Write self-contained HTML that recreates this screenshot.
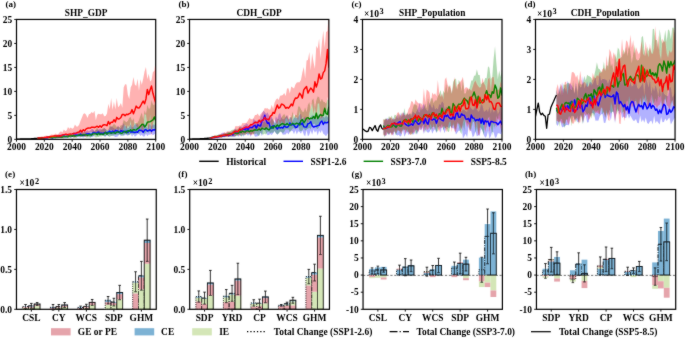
<!DOCTYPE html>
<html><head><meta charset="utf-8"><style>
html,body{margin:0;padding:0;background:#fff;}
svg{display:block;will-change:transform;}
text{font-family:"Liberation Serif", serif;fill:#000;}
</style></head><body>
<svg width="685" height="338" viewBox="0 0 685 338">
<defs><filter id="bl" filterUnits="userSpaceOnUse" x="-5" y="-5" width="695" height="348"><feConvolveMatrix order="3" kernelMatrix="1 2 1 2 28 2 1 2 1" divisor="40" edgeMode="duplicate" preserveAlpha="false"/></filter></defs>
<rect width="685" height="338" fill="#fff"/>
<g filter="url(#bl)">
<defs><clipPath id="cp0"><rect x="16.5" y="19.45" width="139.2" height="119.9"/></clipPath></defs>
<g clip-path="url(#cp0)">
<path d="M37.38,137.88 L38.77,137.88 L40.16,137.46 L41.56,137.34 L42.95,137.51 L44.34,137.18 L45.73,136.99 L47.12,136.1 L48.52,136.63 L49.91,136.56 L51.3,136.66 L52.69,136.38 L54.08,135.64 L55.48,134.96 L56.87,135.99 L58.26,134.55 L59.65,134.6 L61.04,134.01 L62.44,134.43 L63.83,134.08 L65.22,134.56 L66.61,134.41 L68,133.43 L69.4,133.89 L70.79,133.61 L72.18,133.78 L73.57,132.17 L74.96,132.14 L76.36,131.6 L77.75,132.98 L79.14,132.63 L80.53,130.38 L81.92,131.04 L83.32,132.07 L84.71,131.71 L86.1,131.3 L87.49,130.37 L88.88,131.6 L90.28,130.55 L91.67,129.06 L93.06,129.03 L94.45,131.56 L95.84,130.3 L97.24,129.62 L98.63,129.38 L100.02,128.64 L101.41,129.43 L102.8,129.42 L104.2,127.81 L105.59,129 L106.98,130.92 L108.37,129.67 L109.76,127.86 L111.16,125.89 L112.55,127.19 L113.94,128.17 L115.33,128.94 L116.72,127.9 L118.12,125.53 L119.51,128.35 L120.9,127.98 L122.29,125.57 L123.68,123.28 L125.08,126.41 L126.47,125.91 L127.86,128.45 L129.25,127.22 L130.64,124.26 L132.04,127.48 L133.43,126.71 L134.82,124.18 L136.21,124.38 L137.6,123.79 L139,127.18 L140.39,126.17 L141.78,123.58 L143.17,126.69 L144.56,123.35 L145.96,126.24 L147.35,128.61 L148.74,124.38 L150.13,124.28 L151.52,126.64 L152.92,124.04 L154.31,125.21 L155.7,122.98 L155.7,133.35 L154.31,134.28 L152.92,135.28 L151.52,133.64 L150.13,134.67 L148.74,134.55 L147.35,136.35 L145.96,133.78 L144.56,136.44 L143.17,136.38 L141.78,134.71 L140.39,136.03 L139,134.07 L137.6,134.31 L136.21,135.82 L134.82,136.64 L133.43,134.28 L132.04,136.84 L130.64,133.67 L129.25,134.69 L127.86,135.81 L126.47,135.09 L125.08,134.85 L123.68,136.03 L122.29,134.38 L120.9,136.45 L119.51,133.97 L118.12,136.27 L116.72,136.65 L115.33,137 L113.94,136.02 L112.55,135.36 L111.16,135.75 L109.76,134.93 L108.37,136.36 L106.98,134.81 L105.59,136.74 L104.2,135.91 L102.8,135.07 L101.41,134.66 L100.02,135.87 L98.63,135.18 L97.24,135.01 L95.84,135.2 L94.45,135.06 L93.06,136.7 L91.67,137.07 L90.28,137.21 L88.88,135.89 L87.49,136.77 L86.1,136.28 L84.71,136.66 L83.32,137.41 L81.92,136.88 L80.53,137.25 L79.14,137.37 L77.75,137.03 L76.36,137.13 L74.96,136.68 L73.57,137.51 L72.18,136.75 L70.79,137.88 L69.4,136.75 L68,137.42 L66.61,137.39 L65.22,137.74 L63.83,137.51 L62.44,137.24 L61.04,138.02 L59.65,137.64 L58.26,137.81 L56.87,138.09 L55.48,138.24 L54.08,138.16 L52.69,137.83 L51.3,138.03 L49.91,138.26 L48.52,138.07 L47.12,138.34 L45.73,138.22 L44.34,138.76 L42.95,138.58 L41.56,138.64 L40.16,138.56 L38.77,138.78 L37.38,138.97 Z" fill="#0000ff" fill-opacity="0.3"/>
<path d="M37.38,137.69 L38.77,137.69 L40.16,137.74 L41.56,137.45 L42.95,137.43 L44.34,136.78 L45.73,137.15 L47.12,137.06 L48.52,136.56 L49.91,136.87 L51.3,136.84 L52.69,136.05 L54.08,135.65 L55.48,135.45 L56.87,135.2 L58.26,135.54 L59.65,135.65 L61.04,135.29 L62.44,134.77 L63.83,135.09 L65.22,134.92 L66.61,134.62 L68,134.79 L69.4,133.81 L70.79,134.4 L72.18,134.49 L73.57,133.18 L74.96,133.47 L76.36,133.88 L77.75,133.27 L79.14,132.61 L80.53,132.2 L81.92,132.03 L83.32,133.15 L84.71,131.98 L86.1,132.41 L87.49,132.51 L88.88,132.71 L90.28,132.62 L91.67,132.68 L93.06,130.09 L94.45,131.93 L95.84,129.08 L97.24,127.92 L98.63,130.23 L100.02,130.72 L101.41,129.67 L102.8,128.43 L104.2,128.27 L105.59,129.2 L106.98,129.85 L108.37,130.11 L109.76,124.45 L111.16,127.11 L112.55,125.8 L113.94,123.7 L115.33,125.12 L116.72,127.05 L118.12,126.55 L119.51,127.32 L120.9,125.02 L122.29,125.62 L123.68,119.77 L125.08,121.32 L126.47,122.14 L127.86,120.81 L129.25,118.04 L130.64,116.91 L132.04,121.09 L133.43,118.15 L134.82,123.19 L136.21,123.07 L137.6,122.71 L139,119.88 L140.39,116.1 L141.78,112.61 L143.17,119.52 L144.56,110.32 L145.96,114.23 L147.35,104.74 L148.74,108.8 L150.13,108.23 L151.52,100.22 L152.92,104.5 L154.31,104.9 L155.7,94.92 L155.7,130.68 L154.31,129.31 L152.92,127.87 L151.52,134.07 L150.13,130.65 L148.74,133 L147.35,131.33 L145.96,132.5 L144.56,134.27 L143.17,130.11 L141.78,131.93 L140.39,132.23 L139,133.84 L137.6,132.78 L136.21,133.7 L134.82,133.5 L133.43,134.4 L132.04,133.24 L130.64,134.18 L129.25,135.06 L127.86,134.67 L126.47,134.28 L125.08,134.06 L123.68,135.09 L122.29,136.26 L120.9,134.97 L119.51,134.84 L118.12,134.65 L116.72,134.74 L115.33,134.58 L113.94,135.21 L112.55,136.1 L111.16,135.77 L109.76,136.95 L108.37,136.35 L106.98,135.05 L105.59,136.32 L104.2,136.5 L102.8,135.51 L101.41,136.6 L100.02,136.35 L98.63,136.88 L97.24,137.03 L95.84,137.5 L94.45,136.55 L93.06,135.9 L91.67,136.44 L90.28,137.8 L88.88,137.24 L87.49,137.52 L86.1,137.39 L84.71,136.23 L83.32,136.8 L81.92,136.97 L80.53,136.73 L79.14,136.59 L77.75,136.91 L76.36,137.63 L74.96,137.63 L73.57,137.53 L72.18,137.1 L70.79,137.66 L69.4,137.77 L68,138.04 L66.61,137.32 L65.22,137.44 L63.83,138.18 L62.44,138.21 L61.04,138.19 L59.65,137.94 L58.26,138.19 L56.87,138.44 L55.48,138.35 L54.08,138.36 L52.69,138.01 L51.3,138.3 L49.91,138.04 L48.52,138.43 L47.12,138.36 L45.73,138.26 L44.34,138.61 L42.95,138.75 L41.56,138.54 L40.16,138.8 L38.77,138.91 L37.38,138.7 Z" fill="#008000" fill-opacity="0.3"/>
<path d="M37.38,137.56 L38.77,137.2 L40.16,136.92 L41.56,136.51 L42.95,136.57 L44.34,136.32 L45.73,135.86 L47.12,135.77 L48.52,136.32 L49.91,135.21 L51.3,134.38 L52.69,134.72 L54.08,134.72 L55.48,133.38 L56.87,134.32 L58.26,134.15 L59.65,132.26 L61.04,131.31 L62.44,132.49 L63.83,129.38 L65.22,131.06 L66.61,130.61 L68,126.9 L69.4,128.72 L70.79,127.39 L72.18,128.63 L73.57,127.96 L74.96,124.38 L76.36,126.49 L77.75,126.62 L79.14,124.81 L80.53,120.79 L81.92,117.55 L83.32,114.03 L84.71,113.19 L86.1,114.79 L87.49,117.99 L88.88,114.18 L90.28,113.81 L91.67,111.88 L93.06,113.21 L94.45,110.87 L95.84,120.2 L97.24,114.76 L98.63,113.64 L100.02,114.27 L101.41,114.31 L102.8,113.25 L104.2,116.17 L105.59,115.99 L106.98,113.4 L108.37,103.87 L109.76,109.19 L111.16,97.91 L112.55,109.99 L113.94,101.52 L115.33,109.51 L116.72,98.12 L118.12,107.13 L119.51,105.76 L120.9,103.07 L122.29,107.79 L123.68,87.4 L125.08,84.31 L126.47,84.61 L127.86,94.64 L129.25,99.02 L130.64,87.49 L132.04,84.8 L133.43,76.97 L134.82,84.48 L136.21,86 L137.6,78.67 L139,90.78 L140.39,79.31 L141.78,84.78 L143.17,78.73 L144.56,71.42 L145.96,67.01 L147.35,79.14 L148.74,73.63 L150.13,81.39 L151.52,80.12 L152.92,72.08 L154.31,70.88 L155.7,59.57 L155.7,120.32 L154.31,119.59 L152.92,123.49 L151.52,136.77 L150.13,114.13 L148.74,130.69 L147.35,124.82 L145.96,114.54 L144.56,114.37 L143.17,133.02 L141.78,130.8 L140.39,122.53 L139,131.48 L137.6,127.36 L136.21,126.12 L134.82,121.07 L133.43,127.19 L132.04,131.95 L130.64,120.77 L129.25,127.74 L127.86,125.11 L126.47,128.93 L125.08,124.56 L123.68,127.08 L122.29,132.35 L120.9,132.27 L119.51,127.85 L118.12,131.45 L116.72,127.89 L115.33,131.93 L113.94,132.36 L112.55,130.27 L111.16,129.98 L109.76,129.48 L108.37,130.49 L106.98,130.04 L105.59,131.08 L104.2,133.61 L102.8,133.43 L101.41,133.87 L100.02,133.15 L98.63,132.16 L97.24,132.89 L95.84,134.24 L94.45,134.76 L93.06,134.69 L91.67,132.02 L90.28,132.12 L88.88,132.38 L87.49,136.87 L86.1,135.96 L84.71,136.95 L83.32,135.69 L81.92,135.32 L80.53,137.19 L79.14,134.26 L77.75,135.61 L76.36,136.33 L74.96,137.52 L73.57,137.28 L72.18,135.42 L70.79,137.38 L69.4,135.94 L68,135.95 L66.61,136.05 L65.22,137.52 L63.83,137.16 L62.44,137.68 L61.04,137.92 L59.65,137.57 L58.26,137.53 L56.87,137.54 L55.48,137.55 L54.08,137.34 L52.69,138.25 L51.3,137.81 L49.91,138.36 L48.52,138.43 L47.12,138.28 L45.73,138.43 L44.34,138.67 L42.95,138.59 L41.56,138.56 L40.16,138.52 L38.77,138.51 L37.38,138.8 Z" fill="#ff0000" fill-opacity="0.3"/>
<path d="M16.5,139.13 L17.89,139.1 L19.28,139.05 L20.68,139.02 L22.07,139 L23.46,139 L24.85,138.9 L26.24,138.93 L27.64,138.81 L29.03,138.83 L30.42,138.82 L31.81,138.71 L33.2,138.68 L34.6,138.5 L35.99,138.47 L37.38,138.43" fill="none" stroke="#000" stroke-width="1.3" stroke-linejoin="round"/>
<path d="M37.38,138.38 L38.77,138.27 L40.16,138.13 L41.56,138.11 L42.95,137.86 L44.34,138.06 L45.73,137.75 L47.12,138.03 L48.52,137.29 L49.91,137.39 L51.3,137.78 L52.69,137.66 L54.08,137.5 L55.48,137.32 L56.87,136.89 L58.26,136.92 L59.65,136.73 L61.04,136.93 L62.44,135.93 L63.83,135.99 L65.22,136.46 L66.61,136.6 L68,135.99 L69.4,135.77 L70.79,134.92 L72.18,135.88 L73.57,135.24 L74.96,135.06 L76.36,134.83 L77.75,135.14 L79.14,135.13 L80.53,134.06 L81.92,135 L83.32,135.37 L84.71,134.82 L86.1,134.16 L87.49,133.64 L88.88,133.81 L90.28,134.23 L91.67,134.44 L93.06,132.78 L94.45,132.54 L95.84,133.59 L97.24,132.59 L98.63,131.89 L100.02,133.57 L101.41,133.05 L102.8,133.71 L104.2,132.62 L105.59,132.56 L106.98,132.8 L108.37,132.22 L109.76,131.13 L111.16,133.12 L112.55,131 L113.94,132.79 L115.33,130.55 L116.72,130.7 L118.12,131.23 L119.51,132.63 L120.9,130.58 L122.29,131.32 L123.68,130.98 L125.08,132.18 L126.47,131.08 L127.86,132.62 L129.25,130.56 L130.64,131.98 L132.04,131.79 L133.43,132.02 L134.82,132.57 L136.21,131.85 L137.6,132.34 L139,130.13 L140.39,130.32 L141.78,130.42 L143.17,132.4 L144.56,130.14 L145.96,129.66 L147.35,130.95 L148.74,130.51 L150.13,129.72 L151.52,131.28 L152.92,129.8 L154.31,130.1 L155.7,129.2" fill="none" stroke="#0000ff" stroke-width="1.45" stroke-linejoin="round"/>
<path d="M37.38,138.34 L38.77,138.41 L40.16,138.29 L41.56,138.03 L42.95,137.98 L44.34,137.84 L45.73,137.9 L47.12,137.59 L48.52,137.58 L49.91,137.58 L51.3,137.65 L52.69,137.71 L54.08,137.07 L55.48,137.53 L56.87,136.67 L58.26,137.07 L59.65,137.13 L61.04,137.11 L62.44,137.06 L63.83,136.36 L65.22,136.63 L66.61,136.43 L68,136.81 L69.4,135.67 L70.79,135.76 L72.18,136.07 L73.57,135.54 L74.96,136.07 L76.36,135.63 L77.75,135.37 L79.14,134.98 L80.53,135.23 L81.92,135.29 L83.32,134.63 L84.71,134.92 L86.1,134.6 L87.49,135.28 L88.88,134.53 L90.28,134.82 L91.67,135.03 L93.06,133.63 L94.45,133.43 L95.84,133.47 L97.24,134.68 L98.63,133.02 L100.02,134.36 L101.41,133.92 L102.8,134.62 L104.2,133.56 L105.59,132.36 L106.98,134.24 L108.37,132.73 L109.76,132.75 L111.16,133.1 L112.55,132.82 L113.94,132.19 L115.33,133.51 L116.72,132.08 L118.12,131.97 L119.51,132.38 L120.9,133.22 L122.29,133.1 L123.68,131.75 L125.08,131.34 L126.47,132.71 L127.86,130.65 L129.25,131.26 L130.64,129.83 L132.04,130.96 L133.43,129.47 L134.82,130.03 L136.21,130.14 L137.6,128.59 L139,127.84 L140.39,126.21 L141.78,124.53 L143.17,124.32 L144.56,126.96 L145.96,125.51 L147.35,122.25 L148.74,121.89 L150.13,121.72 L151.52,120.84 L152.92,119.97 L154.31,116.94 L155.7,120.62" fill="none" stroke="#008000" stroke-width="1.45" stroke-linejoin="round"/>
<path d="M37.38,138.11 L38.77,137.88 L40.16,138 L41.56,137.9 L42.95,137.77 L44.34,137.59 L45.73,137.36 L47.12,137.06 L48.52,137.2 L49.91,136.72 L51.3,136.52 L52.69,136.34 L54.08,136.07 L55.48,135.96 L56.87,135.89 L58.26,136.02 L59.65,135.83 L61.04,135.96 L62.44,134.9 L63.83,134.63 L65.22,134.34 L66.61,134.34 L68,134.77 L69.4,134.18 L70.79,134.09 L72.18,133.85 L73.57,133.46 L74.96,133.58 L76.36,133.06 L77.75,132.27 L79.14,132.02 L80.53,130.33 L81.92,131.96 L83.32,129.72 L84.71,130.87 L86.1,128.81 L87.49,128.29 L88.88,128.04 L90.28,128.1 L91.67,127.21 L93.06,127.34 L94.45,127.47 L95.84,126.98 L97.24,126.2 L98.63,127.36 L100.02,125.84 L101.41,127.17 L102.8,125.26 L104.2,124.72 L105.59,124.9 L106.98,125.73 L108.37,121.53 L109.76,124.21 L111.16,122.17 L112.55,122.4 L113.94,119.75 L115.33,121.95 L116.72,117.36 L118.12,118.99 L119.51,118.81 L120.9,117.57 L122.29,114.41 L123.68,114.4 L125.08,115.7 L126.47,114.29 L127.86,114.66 L129.25,113.69 L130.64,113.03 L132.04,109.61 L133.43,113.8 L134.82,110.31 L136.21,106.1 L137.6,107.72 L139,108.1 L140.39,106.23 L141.78,103.47 L143.17,101.1 L144.56,103.77 L145.96,98.92 L147.35,89.44 L148.74,94.65 L150.13,89.77 L151.52,86.04 L152.92,93.3 L154.31,98.29 L155.7,102.86" fill="none" stroke="#ff0000" stroke-width="1.45" stroke-linejoin="round"/>
</g>
<rect x="16.5" y="19.45" width="139.2" height="119.9" fill="none" stroke="#000" stroke-width="1.2"/>
<line x1="14.2" y1="139.35" x2="16.5" y2="139.35" stroke="#000" stroke-width="0.9" />
<text x="12.1" y="142.65" text-anchor="end" font-size="9.45" font-weight="bold" >0</text>
<line x1="14.2" y1="115.37" x2="16.5" y2="115.37" stroke="#000" stroke-width="0.9" />
<text x="12.1" y="118.67" text-anchor="end" font-size="9.45" font-weight="bold" >5</text>
<line x1="14.2" y1="91.39" x2="16.5" y2="91.39" stroke="#000" stroke-width="0.9" />
<text x="12.1" y="94.69" text-anchor="end" font-size="9.45" font-weight="bold" >10</text>
<line x1="14.2" y1="67.41" x2="16.5" y2="67.41" stroke="#000" stroke-width="0.9" />
<text x="12.1" y="70.71" text-anchor="end" font-size="9.45" font-weight="bold" >15</text>
<line x1="14.2" y1="43.43" x2="16.5" y2="43.43" stroke="#000" stroke-width="0.9" />
<text x="12.1" y="46.73" text-anchor="end" font-size="9.45" font-weight="bold" >20</text>
<line x1="14.2" y1="19.45" x2="16.5" y2="19.45" stroke="#000" stroke-width="0.9" />
<text x="12.1" y="22.75" text-anchor="end" font-size="9.45" font-weight="bold" >25</text>
<line x1="16.5" y1="139.35" x2="16.5" y2="141.65" stroke="#000" stroke-width="0.9" />
<text x="16.5" y="149.6" text-anchor="middle" font-size="9.45" font-weight="bold" >2000</text>
<line x1="44.34" y1="139.35" x2="44.34" y2="141.65" stroke="#000" stroke-width="0.9" />
<text x="44.34" y="149.6" text-anchor="middle" font-size="9.45" font-weight="bold" >2020</text>
<line x1="72.18" y1="139.35" x2="72.18" y2="141.65" stroke="#000" stroke-width="0.9" />
<text x="72.18" y="149.6" text-anchor="middle" font-size="9.45" font-weight="bold" >2040</text>
<line x1="100.02" y1="139.35" x2="100.02" y2="141.65" stroke="#000" stroke-width="0.9" />
<text x="100.02" y="149.6" text-anchor="middle" font-size="9.45" font-weight="bold" >2060</text>
<line x1="127.86" y1="139.35" x2="127.86" y2="141.65" stroke="#000" stroke-width="0.9" />
<text x="127.86" y="149.6" text-anchor="middle" font-size="9.45" font-weight="bold" >2080</text>
<line x1="155.7" y1="139.35" x2="155.7" y2="141.65" stroke="#000" stroke-width="0.9" />
<text x="155.7" y="149.6" text-anchor="middle" font-size="9.45" font-weight="bold" >2100</text>
<text x="86.1" y="15.7" text-anchor="middle" font-size="9.35" font-weight="bold" >SHP_GDP</text>
<text x="5.4" y="6.9" text-anchor="start" font-size="9.0" font-weight="bold" letter-spacing="0.1">(a)</text>
<defs><clipPath id="cp1"><rect x="189.5" y="19.45" width="139.35" height="119.9"/></clipPath></defs>
<g clip-path="url(#cp1)">
<path d="M210.4,137.24 L211.8,136.48 L213.19,136.5 L214.58,136.03 L215.98,135.98 L217.37,135.13 L218.76,134.41 L220.16,134.6 L221.55,133.54 L222.94,132.52 L224.34,133.35 L225.73,133.41 L227.12,132.42 L228.52,132.42 L229.91,132.64 L231.31,132.62 L232.7,130.96 L234.09,130.06 L235.49,128.47 L236.88,130.14 L238.27,129.68 L239.67,126.79 L241.06,126.38 L242.45,127.56 L243.85,125.25 L245.24,124.63 L246.63,123.16 L248.03,124.75 L249.42,125.85 L250.81,124.38 L252.21,124.1 L253.6,118.4 L254.99,120.52 L256.39,121 L257.78,120.18 L259.18,121.67 L260.57,116.64 L261.96,113.99 L263.36,110.54 L264.75,111.94 L266.14,114 L267.54,112.28 L268.93,115.54 L270.32,118.36 L271.72,116.33 L273.11,120.38 L274.5,122.58 L275.9,116.12 L277.29,119.21 L278.68,114.61 L280.08,112.63 L281.47,117.64 L282.86,119.49 L284.26,119.12 L285.65,117.21 L287.05,114.69 L288.44,118.78 L289.83,119.07 L291.23,116.66 L292.62,120.97 L294.01,117.69 L295.41,117.47 L296.8,118.3 L298.19,117.14 L299.59,114.42 L300.98,113.91 L302.37,118.92 L303.77,117.98 L305.16,116.5 L306.55,119.37 L307.95,118.07 L309.34,119.9 L310.73,118.16 L312.13,114.53 L313.52,117.21 L314.92,114.71 L316.31,119.81 L317.7,115.23 L319.1,115.54 L320.49,117.92 L321.88,115.47 L323.28,116.51 L324.67,117.64 L326.06,115.23 L327.46,117.48 L328.85,116.2 L328.85,131.7 L327.46,133.91 L326.06,136.16 L324.67,134.82 L323.28,133.77 L321.88,130.08 L320.49,132.96 L319.1,130.59 L317.7,135.57 L316.31,130.46 L314.92,132.66 L313.52,129.59 L312.13,134.72 L310.73,130.49 L309.34,134.54 L307.95,136.4 L306.55,129.94 L305.16,136.48 L303.77,134.54 L302.37,130.39 L300.98,133.65 L299.59,132 L298.19,131.33 L296.8,134.61 L295.41,130.2 L294.01,134.29 L292.62,131.09 L291.23,130.76 L289.83,131.7 L288.44,134.62 L287.05,132.4 L285.65,134.51 L284.26,134.52 L282.86,134.85 L281.47,132.16 L280.08,130.97 L278.68,133.3 L277.29,134.69 L275.9,133.21 L274.5,131.13 L273.11,133.35 L271.72,135.03 L270.32,134.03 L268.93,134.9 L267.54,135.14 L266.14,132.69 L264.75,129.67 L263.36,127.42 L261.96,136.33 L260.57,132.72 L259.18,135.33 L257.78,136.25 L256.39,136.57 L254.99,136.74 L253.6,133.61 L252.21,132.63 L250.81,136.96 L249.42,133.74 L248.03,135.77 L246.63,134.24 L245.24,133.51 L243.85,136.73 L242.45,134.14 L241.06,136.52 L239.67,134.41 L238.27,137.04 L236.88,134.81 L235.49,136.49 L234.09,136.96 L232.7,136.6 L231.31,136.76 L229.91,136.15 L228.52,136.85 L227.12,136.26 L225.73,137 L224.34,137.08 L222.94,137.21 L221.55,137.68 L220.16,137.42 L218.76,137.68 L217.37,137.89 L215.98,137.71 L214.58,138.56 L213.19,138.19 L211.8,138.59 L210.4,138.9 Z" fill="#0000ff" fill-opacity="0.3"/>
<path d="M210.4,137.09 L211.8,136.6 L213.19,136.21 L214.58,135.78 L215.98,135.07 L217.37,135.59 L218.76,134.58 L220.16,134.74 L221.55,134.1 L222.94,134.09 L224.34,133.15 L225.73,132.99 L227.12,132.73 L228.52,131.65 L229.91,131.74 L231.31,130.2 L232.7,129.68 L234.09,129.48 L235.49,129.68 L236.88,129.2 L238.27,128.73 L239.67,126.86 L241.06,127.67 L242.45,129.24 L243.85,128.38 L245.24,128 L246.63,127.73 L248.03,128.26 L249.42,128.91 L250.81,126.66 L252.21,128.26 L253.6,127.2 L254.99,123.92 L256.39,124.01 L257.78,126.5 L259.18,123.6 L260.57,124.1 L261.96,125.42 L263.36,121.41 L264.75,121.83 L266.14,122.93 L267.54,119.7 L268.93,120.04 L270.32,121.97 L271.72,118.58 L273.11,119.7 L274.5,123.87 L275.9,122.33 L277.29,119.58 L278.68,118.77 L280.08,120.7 L281.47,117.52 L282.86,115.56 L284.26,113.78 L285.65,116.95 L287.05,115.59 L288.44,119.93 L289.83,116.75 L291.23,117.24 L292.62,111.49 L294.01,117.11 L295.41,114.84 L296.8,115.27 L298.19,106.55 L299.59,106.62 L300.98,109.29 L302.37,111.85 L303.77,111.73 L305.16,107.41 L306.55,112.37 L307.95,104.98 L309.34,102.07 L310.73,110.1 L312.13,100.12 L313.52,98.45 L314.92,108.61 L316.31,100.16 L317.7,96.56 L319.1,97.27 L320.49,102.11 L321.88,98.66 L323.28,101.83 L324.67,102.12 L326.06,103.77 L327.46,99.18 L328.85,101.98 L328.85,126.61 L327.46,119.27 L326.06,125.33 L324.67,122.36 L323.28,122.23 L321.88,120.16 L320.49,121.94 L319.1,126.89 L317.7,129.19 L316.31,128.15 L314.92,123.76 L313.52,124.03 L312.13,124.8 L310.73,129.3 L309.34,127.97 L307.95,128.55 L306.55,129.56 L305.16,130.8 L303.77,127.93 L302.37,130.46 L300.98,131.33 L299.59,130.78 L298.19,126.7 L296.8,127.13 L295.41,129.6 L294.01,127.89 L292.62,128.79 L291.23,130.17 L289.83,132.41 L288.44,129.17 L287.05,129.55 L285.65,129.3 L284.26,131.64 L282.86,133.35 L281.47,131.69 L280.08,132.07 L278.68,133.39 L277.29,134.46 L275.9,132.93 L274.5,130.8 L273.11,132.92 L271.72,132.55 L270.32,133.23 L268.93,131.95 L267.54,131.74 L266.14,134.69 L264.75,133.59 L263.36,134.57 L261.96,134.44 L260.57,132.16 L259.18,135.78 L257.78,135.21 L256.39,133.3 L254.99,134.23 L253.6,134.34 L252.21,133.87 L250.81,134.37 L249.42,134.48 L248.03,133.73 L246.63,134.09 L245.24,134.77 L243.85,135.02 L242.45,135.85 L241.06,136.53 L239.67,134.73 L238.27,135.49 L236.88,135.98 L235.49,136.28 L234.09,136.6 L232.7,136.21 L231.31,136.76 L229.91,136.95 L228.52,136.63 L227.12,136.39 L225.73,136.88 L224.34,137.21 L222.94,136.73 L221.55,137.66 L220.16,137.66 L218.76,137.7 L217.37,138.24 L215.98,137.94 L214.58,138.22 L213.19,137.99 L211.8,138.41 L210.4,138.44 Z" fill="#008000" fill-opacity="0.3"/>
<path d="M210.4,136.94 L211.8,136.68 L213.19,136.4 L214.58,135.07 L215.98,135.8 L217.37,135.72 L218.76,135.09 L220.16,134.22 L221.55,133.62 L222.94,133.83 L224.34,131.92 L225.73,133.12 L227.12,131.25 L228.52,131.57 L229.91,131.61 L231.31,131.83 L232.7,130.76 L234.09,129.91 L235.49,126.1 L236.88,126.28 L238.27,126.13 L239.67,125.62 L241.06,125.79 L242.45,123.01 L243.85,123.23 L245.24,122.9 L246.63,122.66 L248.03,120.5 L249.42,117.98 L250.81,119.1 L252.21,119.36 L253.6,118.2 L254.99,115.05 L256.39,115.12 L257.78,113.52 L259.18,116.28 L260.57,114.35 L261.96,112.49 L263.36,111.36 L264.75,107.95 L266.14,108.38 L267.54,108.37 L268.93,109.44 L270.32,109.5 L271.72,104.69 L273.11,108.88 L274.5,102.66 L275.9,99.77 L277.29,98.22 L278.68,100.07 L280.08,95.7 L281.47,95.45 L282.86,95.08 L284.26,92.9 L285.65,96 L287.05,88.4 L288.44,88.27 L289.83,93.45 L291.23,86.52 L292.62,87.47 L294.01,88.45 L295.41,84.56 L296.8,82.54 L298.19,82.19 L299.59,82.19 L300.98,79.82 L302.37,72.43 L303.77,67.05 L305.16,78.19 L306.55,60.56 L307.95,60.01 L309.34,51.91 L310.73,70.23 L312.13,53.37 L313.52,62.32 L314.92,68.64 L316.31,45.87 L317.7,48.65 L319.1,38.62 L320.49,58.82 L321.88,42.92 L323.28,30.6 L324.67,47.7 L326.06,31.92 L327.46,31.11 L328.85,12.06 L328.85,109.46 L327.46,96.46 L326.06,112.33 L324.67,108.69 L323.28,116.28 L321.88,117.85 L320.49,118.8 L319.1,103.35 L317.7,103.85 L316.31,119.16 L314.92,107.1 L313.52,113.93 L312.13,103.35 L310.73,108.48 L309.34,112.7 L307.95,124.44 L306.55,117.98 L305.16,120.72 L303.77,118.89 L302.37,116.99 L300.98,125.95 L299.59,110.15 L298.19,120.84 L296.8,117.27 L295.41,117.99 L294.01,113.34 L292.62,117.53 L291.23,124.85 L289.83,114.74 L288.44,122.77 L287.05,118.31 L285.65,118.43 L284.26,125.88 L282.86,122.74 L281.47,120.94 L280.08,124.82 L278.68,118.88 L277.29,124.53 L275.9,122.41 L274.5,119.06 L273.11,126.01 L271.72,125.48 L270.32,122.97 L268.93,124.95 L267.54,127.94 L266.14,129.07 L264.75,126.93 L263.36,128.93 L261.96,127.22 L260.57,131.59 L259.18,129.13 L257.78,132.01 L256.39,128.53 L254.99,130.87 L253.6,134.52 L252.21,134.46 L250.81,135.4 L249.42,133.61 L248.03,132.84 L246.63,133.25 L245.24,135.34 L243.85,133.33 L242.45,135.09 L241.06,132.94 L239.67,136.29 L238.27,134.95 L236.88,134.81 L235.49,135.89 L234.09,135.82 L232.7,136.69 L231.31,135.51 L229.91,135.78 L228.52,136.83 L227.12,137.24 L225.73,136.53 L224.34,137.16 L222.94,137 L221.55,137.41 L220.16,137.73 L218.76,137.33 L217.37,137.44 L215.98,138.26 L214.58,137.84 L213.19,138.22 L211.8,138.19 L210.4,138.76 Z" fill="#ff0000" fill-opacity="0.3"/>
<path d="M189.5,139.11 L190.89,139.05 L192.29,139.02 L193.68,138.93 L195.07,138.94 L196.47,138.84 L197.86,138.83 L199.25,138.81 L200.65,138.66 L202.04,138.72 L203.44,138.69 L204.83,138.5 L206.22,138.42 L207.62,138.26 L209.01,138.14 L210.4,137.94" fill="none" stroke="#000" stroke-width="1.3" stroke-linejoin="round"/>
<path d="M210.4,138.02 L211.8,137.57 L213.19,137.3 L214.58,137.51 L215.98,137.3 L217.37,136.85 L218.76,136.83 L220.16,136.19 L221.55,136.25 L222.94,135.99 L224.34,135.83 L225.73,135.4 L227.12,134.49 L228.52,135.65 L229.91,135.28 L231.31,133.82 L232.7,134.93 L234.09,133.49 L235.49,131.99 L236.88,131.73 L238.27,132 L239.67,132.44 L241.06,130 L242.45,129.76 L243.85,128.85 L245.24,129.87 L246.63,127.43 L248.03,130.34 L249.42,126.88 L250.81,127.55 L252.21,127.58 L253.6,125.94 L254.99,125.3 L256.39,128.33 L257.78,124.46 L259.18,125.79 L260.57,125.92 L261.96,121.31 L263.36,119.42 L264.75,115.3 L266.14,120.38 L267.54,123.41 L268.93,122.77 L270.32,127.59 L271.72,128.27 L273.11,125.64 L274.5,126.25 L275.9,127.29 L277.29,129.03 L278.68,126.99 L280.08,127.97 L281.47,127.41 L282.86,128.23 L284.26,125.85 L285.65,127 L287.05,127.29 L288.44,126.4 L289.83,122.91 L291.23,125.1 L292.62,124.21 L294.01,125.12 L295.41,127.45 L296.8,127.27 L298.19,125.04 L299.59,122.92 L300.98,124.39 L302.37,123.04 L303.77,126.66 L305.16,126.96 L306.55,127.13 L307.95,123.62 L309.34,123.38 L310.73,121.58 L312.13,125.64 L313.52,127.05 L314.92,126.48 L316.31,126.35 L317.7,125.62 L319.1,125.33 L320.49,122.28 L321.88,120.94 L323.28,124.47 L324.67,122.15 L326.06,122.79 L327.46,122.62 L328.85,121.26" fill="none" stroke="#0000ff" stroke-width="1.45" stroke-linejoin="round"/>
<path d="M210.4,137.85 L211.8,137.54 L213.19,137.17 L214.58,137.27 L215.98,136.92 L217.37,136.31 L218.76,136.36 L220.16,135.96 L221.55,135.98 L222.94,135.59 L224.34,135.42 L225.73,134.83 L227.12,134.63 L228.52,134.26 L229.91,133.54 L231.31,134.28 L232.7,133.6 L234.09,133.02 L235.49,133.25 L236.88,133.41 L238.27,133.19 L239.67,131.36 L241.06,132.55 L242.45,131 L243.85,131.9 L245.24,132.01 L246.63,130.8 L248.03,130.84 L249.42,131.68 L250.81,130.63 L252.21,131.2 L253.6,130.46 L254.99,129.7 L256.39,129.94 L257.78,130.03 L259.18,129.01 L260.57,130.12 L261.96,128.19 L263.36,128.82 L264.75,129.39 L266.14,127.86 L267.54,129.21 L268.93,129.89 L270.32,128.4 L271.72,126.5 L273.11,128.22 L274.5,125.95 L275.9,126.97 L277.29,124.94 L278.68,126.66 L280.08,125.06 L281.47,124.03 L282.86,123.52 L284.26,124.57 L285.65,124.81 L287.05,123.62 L288.44,124.74 L289.83,125.1 L291.23,124.51 L292.62,123.24 L294.01,124.29 L295.41,123.95 L296.8,123.18 L298.19,123.79 L299.59,124.97 L300.98,120.48 L302.37,119.46 L303.77,122.8 L305.16,120.84 L306.55,118.19 L307.95,117.56 L309.34,119.13 L310.73,118.18 L312.13,118.61 L313.52,116.4 L314.92,118.56 L316.31,113.08 L317.7,118.59 L319.1,116.5 L320.49,114.41 L321.88,115.67 L323.28,115.24 L324.67,108.3 L326.06,113.68 L327.46,114.33 L328.85,106.73" fill="none" stroke="#008000" stroke-width="1.45" stroke-linejoin="round"/>
<path d="M210.4,137.84 L211.8,137.85 L213.19,137.51 L214.58,136.92 L215.98,136.83 L217.37,136.76 L218.76,136.45 L220.16,135.81 L221.55,136.18 L222.94,135.23 L224.34,135.2 L225.73,134.84 L227.12,134.96 L228.52,134.99 L229.91,134.85 L231.31,133.94 L232.7,133.56 L234.09,131.96 L235.49,131.25 L236.88,131.42 L238.27,131.62 L239.67,129.21 L241.06,130.02 L242.45,128.77 L243.85,128.23 L245.24,127.29 L246.63,127.21 L248.03,127.49 L249.42,126.19 L250.81,124.44 L252.21,124.73 L253.6,123.52 L254.99,122.25 L256.39,122.57 L257.78,122.8 L259.18,120.17 L260.57,122.15 L261.96,120.15 L263.36,120.1 L264.75,117.38 L266.14,119.46 L267.54,119.15 L268.93,119.72 L270.32,116.09 L271.72,115.32 L273.11,112.33 L274.5,113.3 L275.9,109.05 L277.29,105.05 L278.68,108.22 L280.08,107.3 L281.47,104.09 L282.86,104.49 L284.26,105.58 L285.65,108.29 L287.05,107.33 L288.44,108.17 L289.83,106.59 L291.23,104.05 L292.62,105.7 L294.01,100.84 L295.41,98 L296.8,98.37 L298.19,96.92 L299.59,93.26 L300.98,94.96 L302.37,98.16 L303.77,89.85 L305.16,88.02 L306.55,86.49 L307.95,93.08 L309.34,90.31 L310.73,88.06 L312.13,89.51 L313.52,92.17 L314.92,81.83 L316.31,87.06 L317.7,82.39 L319.1,73.91 L320.49,79.04 L321.88,78.23 L323.28,72.62 L324.67,70.87 L326.06,63.65 L327.46,49.47 L328.85,67.77" fill="none" stroke="#ff0000" stroke-width="1.45" stroke-linejoin="round"/>
</g>
<rect x="189.5" y="19.45" width="139.35" height="119.9" fill="none" stroke="#000" stroke-width="1.2"/>
<line x1="187.2" y1="139.35" x2="189.5" y2="139.35" stroke="#000" stroke-width="0.9" />
<text x="185.1" y="142.65" text-anchor="end" font-size="9.45" font-weight="bold" >0</text>
<line x1="187.2" y1="115.37" x2="189.5" y2="115.37" stroke="#000" stroke-width="0.9" />
<text x="185.1" y="118.67" text-anchor="end" font-size="9.45" font-weight="bold" >5</text>
<line x1="187.2" y1="91.39" x2="189.5" y2="91.39" stroke="#000" stroke-width="0.9" />
<text x="185.1" y="94.69" text-anchor="end" font-size="9.45" font-weight="bold" >10</text>
<line x1="187.2" y1="67.41" x2="189.5" y2="67.41" stroke="#000" stroke-width="0.9" />
<text x="185.1" y="70.71" text-anchor="end" font-size="9.45" font-weight="bold" >15</text>
<line x1="187.2" y1="43.43" x2="189.5" y2="43.43" stroke="#000" stroke-width="0.9" />
<text x="185.1" y="46.73" text-anchor="end" font-size="9.45" font-weight="bold" >20</text>
<line x1="187.2" y1="19.45" x2="189.5" y2="19.45" stroke="#000" stroke-width="0.9" />
<text x="185.1" y="22.75" text-anchor="end" font-size="9.45" font-weight="bold" >25</text>
<line x1="189.5" y1="139.35" x2="189.5" y2="141.65" stroke="#000" stroke-width="0.9" />
<text x="189.5" y="149.6" text-anchor="middle" font-size="9.45" font-weight="bold" >2000</text>
<line x1="217.37" y1="139.35" x2="217.37" y2="141.65" stroke="#000" stroke-width="0.9" />
<text x="217.37" y="149.6" text-anchor="middle" font-size="9.45" font-weight="bold" >2020</text>
<line x1="245.24" y1="139.35" x2="245.24" y2="141.65" stroke="#000" stroke-width="0.9" />
<text x="245.24" y="149.6" text-anchor="middle" font-size="9.45" font-weight="bold" >2040</text>
<line x1="273.11" y1="139.35" x2="273.11" y2="141.65" stroke="#000" stroke-width="0.9" />
<text x="273.11" y="149.6" text-anchor="middle" font-size="9.45" font-weight="bold" >2060</text>
<line x1="300.98" y1="139.35" x2="300.98" y2="141.65" stroke="#000" stroke-width="0.9" />
<text x="300.98" y="149.6" text-anchor="middle" font-size="9.45" font-weight="bold" >2080</text>
<line x1="328.85" y1="139.35" x2="328.85" y2="141.65" stroke="#000" stroke-width="0.9" />
<text x="328.85" y="149.6" text-anchor="middle" font-size="9.45" font-weight="bold" >2100</text>
<text x="259.18" y="15.7" text-anchor="middle" font-size="9.35" font-weight="bold" >CDH_GDP</text>
<text x="178.4" y="6.9" text-anchor="start" font-size="9.0" font-weight="bold" letter-spacing="0.1">(b)</text>
<defs><clipPath id="cp2"><rect x="362.5" y="19.45" width="139.5" height="119.9"/></clipPath></defs>
<g clip-path="url(#cp2)">
<path d="M383.43,123.42 L384.82,120.03 L386.22,119.12 L387.61,118.34 L389,118.92 L390.4,117.98 L391.8,121.01 L393.19,117.69 L394.58,119.46 L395.98,118.82 L397.38,114.57 L398.77,119.24 L400.17,113.1 L401.56,117.53 L402.95,112.23 L404.35,112.89 L405.75,116.94 L407.14,113.43 L408.54,114.79 L409.93,113.66 L411.32,116.84 L412.72,111.26 L414.12,112.85 L415.51,113.69 L416.9,110.75 L418.3,107.65 L419.69,102.53 L421.09,110.69 L422.49,106.8 L423.88,103.13 L425.27,108.31 L426.67,110.05 L428.06,111.45 L429.46,102.36 L430.86,105.72 L432.25,108.69 L433.64,104.02 L435.04,109.78 L436.44,107.98 L437.83,109.38 L439.23,104.18 L440.62,105.01 L442.01,101.35 L443.41,102.91 L444.81,110.59 L446.2,106.72 L447.6,108.96 L448.99,112.22 L450.38,105.53 L451.78,110.15 L453.18,111.61 L454.57,106.21 L455.97,106.03 L457.36,109.56 L458.75,109.92 L460.15,109.11 L461.55,111.65 L462.94,109.59 L464.33,110.12 L465.73,111.24 L467.12,111.96 L468.52,105.64 L469.92,106.7 L471.31,108.53 L472.7,109.88 L474.1,109.24 L475.5,105.25 L476.89,109.17 L478.28,111.93 L479.68,110.18 L481.07,103.89 L482.47,105.4 L483.87,111.72 L485.26,111.21 L486.65,109.59 L488.05,112.37 L489.44,106.5 L490.84,113.66 L492.24,106.74 L493.63,112.78 L495.02,110.29 L496.42,107.6 L497.81,114.56 L499.21,111.7 L500.61,105.09 L502,113.4 L502,130.94 L500.61,134.21 L499.21,133.16 L497.81,133.36 L496.42,137.37 L495.02,137.82 L493.63,132.45 L492.24,131.77 L490.84,136.14 L489.44,138.39 L488.05,130.64 L486.65,136.35 L485.26,137.77 L483.87,135.33 L482.47,130.42 L481.07,129.05 L479.68,135.85 L478.28,135.34 L476.89,136.38 L475.5,131.1 L474.1,135.72 L472.7,137.36 L471.31,131.37 L469.92,130.82 L468.52,127.04 L467.12,137.69 L465.73,133.69 L464.33,136.28 L462.94,138.6 L461.55,126.59 L460.15,130.91 L458.75,130.49 L457.36,132.41 L455.97,134.45 L454.57,129.38 L453.18,128 L451.78,128.36 L450.38,125.94 L448.99,128.39 L447.6,127.06 L446.2,126.8 L444.81,133.37 L443.41,129.85 L442.01,126.16 L440.62,132.96 L439.23,127.36 L437.83,126.98 L436.44,133.3 L435.04,129.26 L433.64,130.82 L432.25,133.68 L430.86,128.4 L429.46,132.01 L428.06,132.84 L426.67,131.74 L425.27,129.59 L423.88,134.03 L422.49,127.74 L421.09,130.31 L419.69,129.17 L418.3,131.2 L416.9,134.77 L415.51,130.05 L414.12,134.02 L412.72,134.59 L411.32,131.64 L409.93,133.29 L408.54,134.97 L407.14,131.85 L405.75,133.91 L404.35,136.8 L402.95,129.77 L401.56,135.3 L400.17,136.8 L398.77,134.65 L397.38,135.59 L395.98,134.61 L394.58,131.36 L393.19,135.82 L391.8,133.18 L390.4,132.88 L389,135.34 L387.61,133.04 L386.22,135.14 L384.82,136.71 L383.43,133.02 Z" fill="#0000ff" fill-opacity="0.3"/>
<path d="M383.43,119.13 L384.82,119.49 L386.22,117.74 L387.61,121.15 L389,115.98 L390.4,118.21 L391.8,115.62 L393.19,120.02 L394.58,114.7 L395.98,115.02 L397.38,118.87 L398.77,113.1 L400.17,119 L401.56,112.35 L402.95,117.11 L404.35,107.93 L405.75,115.9 L407.14,112.49 L408.54,115.04 L409.93,113.35 L411.32,113.91 L412.72,108.55 L414.12,104.3 L415.51,104.6 L416.9,105.59 L418.3,111.51 L419.69,112.86 L421.09,105.92 L422.49,109.8 L423.88,107.61 L425.27,103.6 L426.67,108.62 L428.06,97.19 L429.46,105.82 L430.86,98.7 L432.25,97.71 L433.64,103.3 L435.04,100.36 L436.44,100.81 L437.83,96.6 L439.23,94.1 L440.62,90.01 L442.01,97.26 L443.41,90.6 L444.81,93.23 L446.2,83.15 L447.6,93.17 L448.99,84.31 L450.38,88.24 L451.78,93.22 L453.18,81.68 L454.57,79.22 L455.97,78.54 L457.36,90.37 L458.75,80.11 L460.15,82.24 L461.55,91.42 L462.94,78.98 L464.33,93.55 L465.73,93.47 L467.12,88.51 L468.52,90.74 L469.92,86.66 L471.31,80.44 L472.7,80.6 L474.1,75.67 L475.5,75.47 L476.89,69.3 L478.28,74.97 L479.68,75.09 L481.07,84.39 L482.47,82.64 L483.87,82.13 L485.26,78.11 L486.65,78.22 L488.05,66.24 L489.44,67.83 L490.84,79.24 L492.24,76.71 L493.63,58.44 L495.02,46.2 L496.42,63.65 L497.81,79.16 L499.21,70.4 L500.61,77.1 L502,69.22 L502,116.38 L500.61,123.53 L499.21,112.71 L497.81,119.92 L496.42,115.64 L495.02,129.04 L493.63,123.67 L492.24,135.42 L490.84,126.14 L489.44,116.56 L488.05,118.07 L486.65,129.35 L485.26,117.85 L483.87,135.07 L482.47,130.98 L481.07,127.78 L479.68,127.52 L478.28,134.52 L476.89,126.49 L475.5,133.37 L474.1,121.39 L472.7,122.77 L471.31,129.25 L469.92,129.83 L468.52,121.9 L467.12,123.59 L465.73,118.34 L464.33,131.04 L462.94,124.42 L461.55,134.34 L460.15,131.65 L458.75,125.47 L457.36,121.58 L455.97,129.4 L454.57,127.77 L453.18,124.21 L451.78,128 L450.38,125.54 L448.99,131.97 L447.6,131.38 L446.2,128.62 L444.81,127.61 L443.41,130.35 L442.01,123.3 L440.62,126.92 L439.23,125.7 L437.83,131.23 L436.44,131.9 L435.04,127.81 L433.64,126.85 L432.25,127.08 L430.86,130.29 L429.46,128.19 L428.06,125.32 L426.67,125.48 L425.27,132.62 L423.88,124.39 L422.49,125.44 L421.09,128.86 L419.69,125.26 L418.3,130.09 L416.9,133.48 L415.51,133.79 L414.12,127.62 L412.72,134.3 L411.32,134.29 L409.93,134.59 L408.54,131.6 L407.14,131.95 L405.75,129.4 L404.35,130 L402.95,130.58 L401.56,130.91 L400.17,134.48 L398.77,130.08 L397.38,131.23 L395.98,135.53 L394.58,131.74 L393.19,131.84 L391.8,135 L390.4,131.48 L389,134.2 L387.61,134.22 L386.22,131.6 L384.82,137.5 L383.43,134.31 Z" fill="#008000" fill-opacity="0.3"/>
<path d="M383.43,119.52 L384.82,119.8 L386.22,119.02 L387.61,119.41 L389,119.17 L390.4,116.86 L391.8,118.38 L393.19,119.41 L394.58,119.28 L395.98,116.52 L397.38,112.73 L398.77,112.26 L400.17,115.77 L401.56,114.59 L402.95,112.24 L404.35,115.23 L405.75,114.4 L407.14,114.62 L408.54,108.98 L409.93,106.7 L411.32,101.03 L412.72,101.72 L414.12,105.28 L415.51,99.18 L416.9,101.86 L418.3,103.26 L419.69,103.62 L421.09,103.3 L422.49,105.18 L423.88,88.22 L425.27,102.48 L426.67,89.49 L428.06,90.85 L429.46,92.6 L430.86,102.43 L432.25,92.5 L433.64,94.66 L435.04,93.19 L436.44,96.14 L437.83,80.07 L439.23,93.1 L440.62,96.93 L442.01,93.49 L443.41,99.86 L444.81,79.73 L446.2,77.15 L447.6,84.74 L448.99,87.62 L450.38,85.29 L451.78,93.96 L453.18,86.37 L454.57,77 L455.97,89.35 L457.36,84.54 L458.75,84.08 L460.15,81.83 L461.55,80.2 L462.94,76.66 L464.33,89.41 L465.73,87.37 L467.12,87.39 L468.52,88.69 L469.92,88.94 L471.31,91.31 L472.7,87.04 L474.1,82.72 L475.5,80.44 L476.89,84.13 L478.28,86.31 L479.68,87.7 L481.07,86.79 L482.47,77.8 L483.87,83.16 L485.26,85.62 L486.65,92.21 L488.05,79.33 L489.44,77.53 L490.84,92.3 L492.24,77.4 L493.63,76.79 L495.02,90.41 L496.42,88.86 L497.81,90.02 L499.21,89.42 L500.61,80.92 L502,91.97 L502,118.46 L500.61,130.12 L499.21,120.21 L497.81,119.02 L496.42,127.8 L495.02,123.2 L493.63,124.37 L492.24,122.01 L490.84,124.95 L489.44,132.59 L488.05,117 L486.65,124.83 L485.26,132.14 L483.87,124.21 L482.47,120.97 L481.07,116.97 L479.68,133.95 L478.28,135.56 L476.89,117 L475.5,129.28 L474.1,118.81 L472.7,117.46 L471.31,124.73 L469.92,133.07 L468.52,123.68 L467.12,127.5 L465.73,122.22 L464.33,117.99 L462.94,122.53 L461.55,129.81 L460.15,125.39 L458.75,122.88 L457.36,124.19 L455.97,131.64 L454.57,131.2 L453.18,121.74 L451.78,132.37 L450.38,120.99 L448.99,122.72 L447.6,128.44 L446.2,132.33 L444.81,126.53 L443.41,126.13 L442.01,128.01 L440.62,127.77 L439.23,131.9 L437.83,128.48 L436.44,123.02 L435.04,129.92 L433.64,123.5 L432.25,130.15 L430.86,123.54 L429.46,126.95 L428.06,129.37 L426.67,130.09 L425.27,125.89 L423.88,132.77 L422.49,125.7 L421.09,130.72 L419.69,126.38 L418.3,132.25 L416.9,129.7 L415.51,129.54 L414.12,133.25 L412.72,132.19 L411.32,134.38 L409.93,134.81 L408.54,132.39 L407.14,128.71 L405.75,133.97 L404.35,129.47 L402.95,128.6 L401.56,134.18 L400.17,131.06 L398.77,130.97 L397.38,129.57 L395.98,133.8 L394.58,129.74 L393.19,134.13 L391.8,135.39 L390.4,132.23 L389,134.43 L387.61,131.64 L386.22,135.86 L384.82,135.24 L383.43,135.46 Z" fill="#ff0000" fill-opacity="0.3"/>
<path d="M362.5,128.86 L363.89,129.76 L365.29,130.96 L366.69,131.56 L368.08,131.26 L369.48,127.36 L370.87,127.96 L372.26,130.66 L373.66,127.96 L375.06,125.56 L376.45,129.76 L377.85,131.26 L379.24,126.76 L380.63,124.96 L382.03,128.56 L383.43,129.46" fill="none" stroke="#000" stroke-width="1.3" stroke-linejoin="round"/>
<path d="M383.43,127.96 L384.82,127.45 L386.22,127.56 L387.61,127.88 L389,125.83 L390.4,125.79 L391.8,124.7 L393.19,124.53 L394.58,122.8 L395.98,126.5 L397.38,123.35 L398.77,122.43 L400.17,121.53 L401.56,125.42 L402.95,122.2 L404.35,123.04 L405.75,124.44 L407.14,125.37 L408.54,125.91 L409.93,125.02 L411.32,123.73 L412.72,125.32 L414.12,122.39 L415.51,119.86 L416.9,122.56 L418.3,124.26 L419.69,123.72 L421.09,121.46 L422.49,119.19 L423.88,123.49 L425.27,118.41 L426.67,122.43 L428.06,124.2 L429.46,118.54 L430.86,119.17 L432.25,120.06 L433.64,118.98 L435.04,119.24 L436.44,123.23 L437.83,118.88 L439.23,118.2 L440.62,119.16 L442.01,120.29 L443.41,120.72 L444.81,114.16 L446.2,116.59 L447.6,115.01 L448.99,117.53 L450.38,118.63 L451.78,119.11 L453.18,115.88 L454.57,119.55 L455.97,113.91 L457.36,112.27 L458.75,117.38 L460.15,117.27 L461.55,113.86 L462.94,115.32 L464.33,115.14 L465.73,119.11 L467.12,119.21 L468.52,118.49 L469.92,121.82 L471.31,114.97 L472.7,118.01 L474.1,118.29 L475.5,120.98 L476.89,119.44 L478.28,120.53 L479.68,118.59 L481.07,123.3 L482.47,118.55 L483.87,124.38 L485.26,120.38 L486.65,121.92 L488.05,121.13 L489.44,125.95 L490.84,121.51 L492.24,121.51 L493.63,122.38 L495.02,122.39 L496.42,122.75 L497.81,124.77 L499.21,122.94 L500.61,121.14 L502,125.05" fill="none" stroke="#0000ff" stroke-width="1.45" stroke-linejoin="round"/>
<path d="M383.43,125.56 L384.82,128.7 L386.22,128.02 L387.61,125.48 L389,125.78 L390.4,127.11 L391.8,126.76 L393.19,124.7 L394.58,126.07 L395.98,127.41 L397.38,125.44 L398.77,124.89 L400.17,126.13 L401.56,125.93 L402.95,121.53 L404.35,120.19 L405.75,119.44 L407.14,120.47 L408.54,124.58 L409.93,119.55 L411.32,118.75 L412.72,122.32 L414.12,117.56 L415.51,117.96 L416.9,119.4 L418.3,121.2 L419.69,117.47 L421.09,120.73 L422.49,120.36 L423.88,115.22 L425.27,114.92 L426.67,116.01 L428.06,116.9 L429.46,114.39 L430.86,117.85 L432.25,112.85 L433.64,112.62 L435.04,117.8 L436.44,118.04 L437.83,117.25 L439.23,113.75 L440.62,116.25 L442.01,108.25 L443.41,113.4 L444.81,114.26 L446.2,110.06 L447.6,109.04 L448.99,106.63 L450.38,112.31 L451.78,113.23 L453.18,103.53 L454.57,106.2 L455.97,109.25 L457.36,106.41 L458.75,104.17 L460.15,104.4 L461.55,103.51 L462.94,100.52 L464.33,98.24 L465.73,99.93 L467.12,100.92 L468.52,104.25 L469.92,97.34 L471.31,97.7 L472.7,95.68 L474.1,91.94 L475.5,96.43 L476.89,103.72 L478.28,96.2 L479.68,102.94 L481.07,102.5 L482.47,99.71 L483.87,101.48 L485.26,94.74 L486.65,90.61 L488.05,95.44 L489.44,94.76 L490.84,97.58 L492.24,91.79 L493.63,93.3 L495.02,85.04 L496.42,88.51 L497.81,98.29 L499.21,96.85 L500.61,87.89 L502,95.49" fill="none" stroke="#008000" stroke-width="1.45" stroke-linejoin="round"/>
<path d="M383.43,128.84 L384.82,128.11 L386.22,127.93 L387.61,126.66 L389,127.27 L390.4,126.01 L391.8,123.48 L393.19,123.92 L394.58,122.94 L395.98,124.46 L397.38,123.86 L398.77,124.18 L400.17,123.76 L401.56,123.17 L402.95,124.21 L404.35,120.04 L405.75,121.59 L407.14,122.51 L408.54,119.72 L409.93,123.08 L411.32,119.06 L412.72,119.17 L414.12,117.55 L415.51,115.09 L416.9,119.94 L418.3,115.81 L419.69,117.63 L421.09,118.48 L422.49,120.71 L423.88,116.98 L425.27,114.68 L426.67,114.6 L428.06,117.03 L429.46,115.24 L430.86,119.47 L432.25,114.18 L433.64,112.75 L435.04,116.27 L436.44,114.2 L437.83,118.88 L439.23,115.83 L440.62,115.03 L442.01,117.88 L443.41,111.73 L444.81,114.31 L446.2,112.29 L447.6,109.18 L448.99,109.7 L450.38,115.6 L451.78,113.88 L453.18,116.03 L454.57,106.2 L455.97,111.68 L457.36,111.24 L458.75,105.81 L460.15,111.17 L461.55,105.7 L462.94,105.67 L464.33,99.26 L465.73,108.77 L467.12,108.78 L468.52,108.01 L469.92,100.25 L471.31,96.75 L472.7,105.03 L474.1,105.69 L475.5,99.41 L476.89,108.01 L478.28,101.97 L479.68,97.26 L481.07,101.95 L482.47,103.03 L483.87,102.01 L485.26,94.37 L486.65,99.8 L488.05,95.19 L489.44,101.95 L490.84,101.38 L492.24,103.56 L493.63,108.85 L495.02,109.72 L496.42,103.66 L497.81,102.91 L499.21,102.97 L500.61,106.37 L502,106.52" fill="none" stroke="#ff0000" stroke-width="1.45" stroke-linejoin="round"/>
</g>
<rect x="362.5" y="19.45" width="139.5" height="119.9" fill="none" stroke="#000" stroke-width="1.2"/>
<line x1="360.2" y1="139.35" x2="362.5" y2="139.35" stroke="#000" stroke-width="0.9" />
<text x="358.1" y="142.65" text-anchor="end" font-size="9.45" font-weight="bold" >0</text>
<line x1="360.2" y1="109.38" x2="362.5" y2="109.38" stroke="#000" stroke-width="0.9" />
<text x="358.1" y="112.67" text-anchor="end" font-size="9.45" font-weight="bold" >1</text>
<line x1="360.2" y1="79.4" x2="362.5" y2="79.4" stroke="#000" stroke-width="0.9" />
<text x="358.1" y="82.7" text-anchor="end" font-size="9.45" font-weight="bold" >2</text>
<line x1="360.2" y1="49.42" x2="362.5" y2="49.42" stroke="#000" stroke-width="0.9" />
<text x="358.1" y="52.72" text-anchor="end" font-size="9.45" font-weight="bold" >3</text>
<line x1="360.2" y1="19.45" x2="362.5" y2="19.45" stroke="#000" stroke-width="0.9" />
<text x="358.1" y="22.75" text-anchor="end" font-size="9.45" font-weight="bold" >4</text>
<line x1="362.5" y1="139.35" x2="362.5" y2="141.65" stroke="#000" stroke-width="0.9" />
<text x="362.5" y="149.6" text-anchor="middle" font-size="9.45" font-weight="bold" >2000</text>
<line x1="390.4" y1="139.35" x2="390.4" y2="141.65" stroke="#000" stroke-width="0.9" />
<text x="390.4" y="149.6" text-anchor="middle" font-size="9.45" font-weight="bold" >2020</text>
<line x1="418.3" y1="139.35" x2="418.3" y2="141.65" stroke="#000" stroke-width="0.9" />
<text x="418.3" y="149.6" text-anchor="middle" font-size="9.45" font-weight="bold" >2040</text>
<line x1="446.2" y1="139.35" x2="446.2" y2="141.65" stroke="#000" stroke-width="0.9" />
<text x="446.2" y="149.6" text-anchor="middle" font-size="9.45" font-weight="bold" >2060</text>
<line x1="474.1" y1="139.35" x2="474.1" y2="141.65" stroke="#000" stroke-width="0.9" />
<text x="474.1" y="149.6" text-anchor="middle" font-size="9.45" font-weight="bold" >2080</text>
<line x1="502" y1="139.35" x2="502" y2="141.65" stroke="#000" stroke-width="0.9" />
<text x="502" y="149.6" text-anchor="middle" font-size="9.45" font-weight="bold" >2100</text>
<text x="432.25" y="15.7" text-anchor="middle" font-size="9.35" font-weight="bold" >SHP_Population</text>
<text x="351.4" y="6.9" text-anchor="start" font-size="9.0" font-weight="bold" letter-spacing="0.1">(c)</text>
<text x="364" y="16.5" font-size="9.6" font-weight="bold"><tspan font-size="9.4">×</tspan>10<tspan dx="0.6" dy="-2.9" font-size="8.3">3</tspan></text>
<defs><clipPath id="cp3"><rect x="535.5" y="19.45" width="139.55" height="119.9"/></clipPath></defs>
<g clip-path="url(#cp3)">
<path d="M556.43,89.36 L557.83,97.05 L559.22,86.49 L560.62,95.12 L562.01,82.3 L563.41,89.47 L564.81,87.73 L566.2,92.49 L567.6,80.66 L568.99,84.13 L570.39,83.49 L571.78,85.7 L573.18,87.94 L574.57,93.96 L575.97,80.89 L577.37,97.36 L578.76,82.54 L580.16,87.4 L581.55,87.08 L582.95,75.9 L584.34,88.75 L585.74,85.34 L587.13,81.24 L588.53,87.99 L589.92,81.54 L591.32,82.52 L592.72,84.66 L594.11,80.63 L595.51,77.43 L596.9,85.29 L598.3,84.97 L599.69,74.08 L601.09,81.01 L602.48,79.08 L603.88,78.89 L605.27,79.54 L606.67,80.25 L608.07,84.21 L609.46,78.73 L610.86,82.63 L612.25,84.62 L613.65,80.56 L615.04,85.44 L616.44,86.6 L617.83,76.72 L619.23,78.71 L620.63,70.73 L622.02,85 L623.42,74.07 L624.81,67.2 L626.21,86.76 L627.6,80.36 L629,86.64 L630.39,82.29 L631.79,86.65 L633.18,85.59 L634.58,77.88 L635.98,82.07 L637.37,88.14 L638.77,89.03 L640.16,87.31 L641.56,85.37 L642.95,82.37 L644.35,95.66 L645.74,77.77 L647.14,82.16 L648.54,87.72 L649.93,79.86 L651.33,94.47 L652.72,86.79 L654.12,91.52 L655.51,85.04 L656.91,89.8 L658.3,96.93 L659.7,87.24 L661.09,97.8 L662.49,85.26 L663.89,93.44 L665.28,95.14 L666.68,95.65 L668.07,95.89 L669.47,87.13 L670.86,87.55 L672.26,97.79 L673.65,95.78 L675.05,91.83 L675.05,117.55 L673.65,119.6 L672.26,122 L670.86,124.4 L669.47,117.42 L668.07,119.12 L666.68,120.91 L665.28,118.41 L663.89,121.93 L662.49,122.17 L661.09,117.04 L659.7,124.44 L658.3,122.78 L656.91,120.74 L655.51,123.29 L654.12,115.78 L652.72,124.42 L651.33,120.46 L649.93,121.62 L648.54,123.9 L647.14,122.89 L645.74,117.55 L644.35,122.66 L642.95,119.32 L641.56,122.36 L640.16,115.49 L638.77,123.16 L637.37,123.05 L635.98,118.9 L634.58,120.69 L633.18,120.63 L631.79,118.3 L630.39,115.48 L629,118.65 L627.6,113.78 L626.21,117.89 L624.81,117.7 L623.42,116.73 L622.02,118.05 L620.63,111.51 L619.23,115.07 L617.83,109.06 L616.44,111.34 L615.04,123.35 L613.65,112.92 L612.25,110.9 L610.86,120.44 L609.46,115.23 L608.07,111.83 L606.67,117.72 L605.27,122.92 L603.88,122.63 L602.48,114.19 L601.09,114.17 L599.69,116.56 L598.3,120.85 L596.9,120.38 L595.51,120.74 L594.11,113.73 L592.72,113.03 L591.32,113.21 L589.92,116.13 L588.53,122.3 L587.13,122.56 L585.74,115.04 L584.34,117.97 L582.95,123.73 L581.55,115.13 L580.16,116.89 L578.76,122.27 L577.37,122.1 L575.97,118.9 L574.57,119.94 L573.18,116.05 L571.78,115.77 L570.39,117.59 L568.99,125.31 L567.6,125.03 L566.2,124.98 L564.81,126.16 L563.41,127.01 L562.01,127.18 L560.62,122.83 L559.22,120.73 L557.83,126.07 L556.43,124.28 Z" fill="#0000ff" fill-opacity="0.3"/>
<path d="M556.43,89.98 L557.83,95.11 L559.22,91.93 L560.62,84.58 L562.01,95.77 L563.41,84.43 L564.81,84.79 L566.2,84.62 L567.6,82.73 L568.99,83.06 L570.39,89.02 L571.78,90.22 L573.18,80.8 L574.57,93.45 L575.97,83.11 L577.37,91.24 L578.76,78.33 L580.16,83.53 L581.55,84.84 L582.95,83.91 L584.34,75.81 L585.74,80.4 L587.13,74.69 L588.53,75.9 L589.92,76.54 L591.32,77.66 L592.72,80.13 L594.11,75.86 L595.51,69.97 L596.9,62.22 L598.3,68.47 L599.69,69.15 L601.09,71.82 L602.48,71.7 L603.88,61.55 L605.27,70.38 L606.67,65.11 L608.07,65.93 L609.46,54.21 L610.86,66.41 L612.25,63.62 L613.65,72.74 L615.04,53.32 L616.44,58.97 L617.83,47.49 L619.23,49.75 L620.63,58.57 L622.02,56.55 L623.42,49.09 L624.81,54.53 L626.21,46.53 L627.6,56.57 L629,45.34 L630.39,51.4 L631.79,63.33 L633.18,54.47 L634.58,44.83 L635.98,58.73 L637.37,60.41 L638.77,59.88 L640.16,56.85 L641.56,37.2 L642.95,36.11 L644.35,49.27 L645.74,56.17 L647.14,46.56 L648.54,51.22 L649.93,47.43 L651.33,52.77 L652.72,29.29 L654.12,28.79 L655.51,39.91 L656.91,39.91 L658.3,49.49 L659.7,29.16 L661.09,39.12 L662.49,43.62 L663.89,39.89 L665.28,29.92 L666.68,41.7 L668.07,29.14 L669.47,30.78 L670.86,39.32 L672.26,27.66 L673.65,27.6 L675.05,32.97 L675.05,107.88 L673.65,107.82 L672.26,99.38 L670.86,108 L669.47,90.22 L668.07,88.4 L666.68,104.26 L665.28,98.85 L663.89,100.18 L662.49,109.17 L661.09,94.97 L659.7,97.82 L658.3,95.61 L656.91,102.84 L655.51,98.15 L654.12,102.97 L652.72,104.08 L651.33,93.87 L649.93,101.93 L648.54,107.88 L647.14,98.67 L645.74,105.09 L644.35,97.17 L642.95,102.03 L641.56,107.59 L640.16,97.37 L638.77,105.56 L637.37,106.69 L635.98,101.06 L634.58,101.18 L633.18,106.15 L631.79,98.75 L630.39,105.65 L629,108.97 L627.6,100.19 L626.21,101.65 L624.81,114.58 L623.42,110.96 L622.02,113.56 L620.63,99.71 L619.23,110.86 L617.83,111.11 L616.44,114.48 L615.04,98.72 L613.65,111.98 L612.25,111.71 L610.86,113.5 L609.46,109.4 L608.07,116.55 L606.67,112.4 L605.27,118.2 L603.88,112.11 L602.48,114.28 L601.09,105.74 L599.69,115.65 L598.3,109.56 L596.9,111.39 L595.51,110.15 L594.11,117.51 L592.72,112.94 L591.32,118.62 L589.92,115.1 L588.53,112.88 L587.13,114.99 L585.74,111.93 L584.34,110.78 L582.95,124.04 L581.55,117.67 L580.16,114.04 L578.76,124.42 L577.37,115.25 L575.97,122.25 L574.57,119.33 L573.18,115.27 L571.78,126.19 L570.39,118.04 L568.99,115.83 L567.6,119.93 L566.2,119.19 L564.81,127.89 L563.41,124.8 L562.01,119.46 L560.62,118.53 L559.22,126.99 L557.83,118.41 L556.43,125 Z" fill="#008000" fill-opacity="0.3"/>
<path d="M556.43,88.63 L557.83,84 L559.22,92.87 L560.62,83.7 L562.01,86.31 L563.41,93.87 L564.81,82.22 L566.2,81.56 L567.6,95.27 L568.99,83.39 L570.39,82.71 L571.78,72.13 L573.18,71.89 L574.57,73.5 L575.97,77.81 L577.37,74.78 L578.76,84.44 L580.16,70.64 L581.55,79.71 L582.95,83.4 L584.34,81.84 L585.74,83.25 L587.13,87.2 L588.53,86.09 L589.92,82.21 L591.32,86.02 L592.72,72.66 L594.11,77.28 L595.51,78.24 L596.9,75.06 L598.3,76.62 L599.69,71.64 L601.09,73.33 L602.48,69.34 L603.88,68.08 L605.27,71.23 L606.67,55.5 L608.07,70.54 L609.46,49.08 L610.86,51.91 L612.25,59.29 L613.65,52.26 L615.04,55.72 L616.44,62.82 L617.83,61.08 L619.23,59.45 L620.63,57.53 L622.02,38.59 L623.42,54.69 L624.81,51.13 L626.21,40.36 L627.6,41.98 L629,48.85 L630.39,34.87 L631.79,47.42 L633.18,40.07 L634.58,53.78 L635.98,47.04 L637.37,51.06 L638.77,54.23 L640.16,51.55 L641.56,41.11 L642.95,53.23 L644.35,55.91 L645.74,41.31 L647.14,52.03 L648.54,57.56 L649.93,43.72 L651.33,53.41 L652.72,53.85 L654.12,47.73 L655.51,26.04 L656.91,49.19 L658.3,34.71 L659.7,53.88 L661.09,59.92 L662.49,38.4 L663.89,42.61 L665.28,40.86 L666.68,53.51 L668.07,57.77 L669.47,49.91 L670.86,53.11 L672.26,50.44 L673.65,27.42 L675.05,39.91 L675.05,111.96 L673.65,107.69 L672.26,99.98 L670.86,103.54 L669.47,110.52 L668.07,106.17 L666.68,105.31 L665.28,95.71 L663.89,110.29 L662.49,110.05 L661.09,100.38 L659.7,105.09 L658.3,105.54 L656.91,108.26 L655.51,105 L654.12,105.62 L652.72,95.85 L651.33,106.73 L649.93,99.84 L648.54,107.99 L647.14,106.11 L645.74,93.48 L644.35,101.91 L642.95,94.96 L641.56,106.1 L640.16,97.74 L638.77,115.37 L637.37,111.39 L635.98,97.55 L634.58,111.74 L633.18,105.55 L631.79,107.82 L630.39,102.74 L629,95.63 L627.6,115.04 L626.21,105.76 L624.81,121.37 L623.42,115.54 L622.02,98.88 L620.63,123.91 L619.23,123.57 L617.83,102.92 L616.44,114.17 L615.04,121.78 L613.65,111.9 L612.25,106.95 L610.86,101.22 L609.46,121.28 L608.07,119.86 L606.67,109.48 L605.27,116.97 L603.88,112.47 L602.48,108.24 L601.09,107.5 L599.69,113.96 L598.3,113.61 L596.9,112.22 L595.51,113.34 L594.11,110.84 L592.72,109.44 L591.32,115.42 L589.92,118.26 L588.53,120.19 L587.13,113.61 L585.74,116.03 L584.34,113.48 L582.95,122.37 L581.55,114.51 L580.16,122.51 L578.76,122.46 L577.37,118.9 L575.97,117.82 L574.57,121.66 L573.18,123.99 L571.78,122.87 L570.39,118.1 L568.99,124.67 L567.6,122.46 L566.2,118.84 L564.81,124.17 L563.41,122.48 L562.01,124 L560.62,120.46 L559.22,122.58 L557.83,121.14 L556.43,120.7 Z" fill="#ff0000" fill-opacity="0.3"/>
<path d="M535.5,116.27 L536.9,109.38 L538.29,103.08 L539.69,112.07 L541.08,114.77 L542.48,113.27 L543.87,115.37 L545.27,116.27 L546.66,128.26 L548.06,114.77 L549.46,114.17 L550.85,107.58 L552.25,104.28 L553.64,101.28 L555.04,97.98 L556.43,94.99" fill="none" stroke="#000" stroke-width="1.3" stroke-linejoin="round"/>
<path d="M556.43,111.01 L557.83,110.45 L559.22,111.71 L560.62,107.59 L562.01,110.73 L563.41,106.46 L564.81,105.81 L566.2,109.82 L567.6,105.55 L568.99,108.92 L570.39,102.35 L571.78,101.38 L573.18,111.26 L574.57,99.79 L575.97,104.36 L577.37,109.45 L578.76,102.51 L580.16,107.82 L581.55,104.38 L582.95,111.82 L584.34,109.5 L585.74,104.96 L587.13,106.56 L588.53,99.1 L589.92,97.8 L591.32,105.65 L592.72,97.91 L594.11,96.18 L595.51,102.06 L596.9,101.72 L598.3,105.75 L599.69,100.72 L601.09,95.8 L602.48,93.98 L603.88,90.36 L605.27,97.53 L606.67,93.73 L608.07,95.76 L609.46,96.22 L610.86,96.79 L612.25,96.61 L613.65,94.75 L615.04,103.96 L616.44,92.01 L617.83,93.62 L619.23,103.73 L620.63,101.55 L622.02,104.23 L623.42,106.79 L624.81,104.47 L626.21,109.93 L627.6,106.46 L629,113.17 L630.39,104.16 L631.79,101.53 L633.18,102.11 L634.58,107.46 L635.98,111.98 L637.37,107.56 L638.77,104.36 L640.16,106.73 L641.56,105.64 L642.95,109.02 L644.35,102.44 L645.74,104.91 L647.14,108.91 L648.54,106.95 L649.93,103.26 L651.33,108.28 L652.72,105.35 L654.12,106.67 L655.51,110.36 L656.91,109.12 L658.3,113.66 L659.7,110.01 L661.09,113 L662.49,108.07 L663.89,104.32 L665.28,105.65 L666.68,114.45 L668.07,113.57 L669.47,109.33 L670.86,112.39 L672.26,110.54 L673.65,106.87 L675.05,107.85" fill="none" stroke="#0000ff" stroke-width="1.45" stroke-linejoin="round"/>
<path d="M556.43,107.81 L557.83,112.52 L559.22,110.44 L560.62,107.66 L562.01,104.24 L563.41,109.18 L564.81,103.3 L566.2,102.42 L567.6,103.5 L568.99,102.9 L570.39,108.25 L571.78,101.75 L573.18,108.9 L574.57,107.14 L575.97,107.35 L577.37,98.15 L578.76,99.52 L580.16,100.49 L581.55,104.08 L582.95,102.55 L584.34,96.48 L585.74,93.52 L587.13,100.74 L588.53,94.74 L589.92,95.97 L591.32,93.73 L592.72,101.44 L594.11,89.5 L595.51,92.16 L596.9,95.41 L598.3,88.19 L599.69,87.09 L601.09,93.25 L602.48,84 L603.88,93.14 L605.27,94.96 L606.67,93.36 L608.07,87.87 L609.46,90.46 L610.86,85.91 L612.25,85.61 L613.65,87.31 L615.04,78.75 L616.44,77.35 L617.83,86.94 L619.23,81.84 L620.63,80.66 L622.02,75.32 L623.42,73.42 L624.81,84.98 L626.21,84.86 L627.6,80.34 L629,79.07 L630.39,76.34 L631.79,79.07 L633.18,80.45 L634.58,78.23 L635.98,75.1 L637.37,75.02 L638.77,76.39 L640.16,81.86 L641.56,65.21 L642.95,80.9 L644.35,68.99 L645.74,76.8 L647.14,75.82 L648.54,74.01 L649.93,69.38 L651.33,75.67 L652.72,72.63 L654.12,75.65 L655.51,73.08 L656.91,77.93 L658.3,66.12 L659.7,63.69 L661.09,65.99 L662.49,71.07 L663.89,60.92 L665.28,65.38 L666.68,73.18 L668.07,61.11 L669.47,67.5 L670.86,61.45 L672.26,65.72 L673.65,64.01 L675.05,60.03" fill="none" stroke="#008000" stroke-width="1.45" stroke-linejoin="round"/>
<path d="M556.43,104.88 L557.83,105.79 L559.22,113.18 L560.62,114.28 L562.01,110.32 L563.41,104.95 L564.81,112.08 L566.2,107.61 L567.6,108.97 L568.99,110.91 L570.39,111.54 L571.78,106.13 L573.18,103.42 L574.57,112.62 L575.97,110.48 L577.37,105.68 L578.76,100.67 L580.16,107.73 L581.55,99.06 L582.95,100.35 L584.34,100.97 L585.74,102.25 L587.13,99.89 L588.53,97.91 L589.92,103.79 L591.32,101.77 L592.72,107.91 L594.11,98.72 L595.51,104.73 L596.9,97.07 L598.3,94.69 L599.69,90.92 L601.09,95.82 L602.48,92.74 L603.88,89.07 L605.27,94.25 L606.67,87.07 L608.07,87.16 L609.46,91.64 L610.86,84.58 L612.25,77.83 L613.65,72.86 L615.04,86.07 L616.44,66.85 L617.83,76.77 L619.23,59.26 L620.63,80.69 L622.02,71.1 L623.42,66.06 L624.81,65.11 L626.21,78.9 L627.6,86.25 L629,80.59 L630.39,78.4 L631.79,81.18 L633.18,81.98 L634.58,83.43 L635.98,74.06 L637.37,70.64 L638.77,66.28 L640.16,81.74 L641.56,79.98 L642.95,66.99 L644.35,82.03 L645.74,75.1 L647.14,70.11 L648.54,75.4 L649.93,75.95 L651.33,75.87 L652.72,78.87 L654.12,79.32 L655.51,82.92 L656.91,82 L658.3,77.56 L659.7,85.7 L661.09,79.51 L662.49,91.4 L663.89,83.7 L665.28,82.42 L666.68,76.55 L668.07,89.66 L669.47,74.37 L670.86,81.93 L672.26,81.12 L673.65,65.35 L675.05,70.03" fill="none" stroke="#ff0000" stroke-width="1.45" stroke-linejoin="round"/>
</g>
<rect x="535.5" y="19.45" width="139.55" height="119.9" fill="none" stroke="#000" stroke-width="1.2"/>
<line x1="533.2" y1="139.35" x2="535.5" y2="139.35" stroke="#000" stroke-width="0.9" />
<text x="531.1" y="142.65" text-anchor="end" font-size="9.45" font-weight="bold" >0</text>
<line x1="533.2" y1="109.38" x2="535.5" y2="109.38" stroke="#000" stroke-width="0.9" />
<text x="531.1" y="112.67" text-anchor="end" font-size="9.45" font-weight="bold" >1</text>
<line x1="533.2" y1="79.4" x2="535.5" y2="79.4" stroke="#000" stroke-width="0.9" />
<text x="531.1" y="82.7" text-anchor="end" font-size="9.45" font-weight="bold" >2</text>
<line x1="533.2" y1="49.42" x2="535.5" y2="49.42" stroke="#000" stroke-width="0.9" />
<text x="531.1" y="52.72" text-anchor="end" font-size="9.45" font-weight="bold" >3</text>
<line x1="533.2" y1="19.45" x2="535.5" y2="19.45" stroke="#000" stroke-width="0.9" />
<text x="531.1" y="22.75" text-anchor="end" font-size="9.45" font-weight="bold" >4</text>
<line x1="535.5" y1="139.35" x2="535.5" y2="141.65" stroke="#000" stroke-width="0.9" />
<text x="535.5" y="149.6" text-anchor="middle" font-size="9.45" font-weight="bold" >2000</text>
<line x1="563.41" y1="139.35" x2="563.41" y2="141.65" stroke="#000" stroke-width="0.9" />
<text x="563.41" y="149.6" text-anchor="middle" font-size="9.45" font-weight="bold" >2020</text>
<line x1="591.32" y1="139.35" x2="591.32" y2="141.65" stroke="#000" stroke-width="0.9" />
<text x="591.32" y="149.6" text-anchor="middle" font-size="9.45" font-weight="bold" >2040</text>
<line x1="619.23" y1="139.35" x2="619.23" y2="141.65" stroke="#000" stroke-width="0.9" />
<text x="619.23" y="149.6" text-anchor="middle" font-size="9.45" font-weight="bold" >2060</text>
<line x1="647.14" y1="139.35" x2="647.14" y2="141.65" stroke="#000" stroke-width="0.9" />
<text x="647.14" y="149.6" text-anchor="middle" font-size="9.45" font-weight="bold" >2080</text>
<line x1="675.05" y1="139.35" x2="675.05" y2="141.65" stroke="#000" stroke-width="0.9" />
<text x="675.05" y="149.6" text-anchor="middle" font-size="9.45" font-weight="bold" >2100</text>
<text x="605.27" y="15.7" text-anchor="middle" font-size="9.35" font-weight="bold" >CDH_Population</text>
<text x="524.4" y="6.9" text-anchor="start" font-size="9.0" font-weight="bold" letter-spacing="0.1">(d)</text>
<text x="537" y="16.5" font-size="9.6" font-weight="bold"><tspan font-size="9.4">×</tspan>10<tspan dx="0.6" dy="-2.9" font-size="8.3">3</tspan></text>
<line x1="199.2" y1="161.3" x2="218.7" y2="161.3" stroke="#000" stroke-width="1.4" />
<text x="226.2" y="164.6" text-anchor="start" font-size="9.45" font-weight="bold" >Historical</text>
<line x1="283.5" y1="161.3" x2="303" y2="161.3" stroke="#0000ff" stroke-width="1.4" />
<text x="310.5" y="164.6" text-anchor="start" font-size="9.45" font-weight="bold" >SSP1-2.6</text>
<line x1="363.6" y1="161.3" x2="383.1" y2="161.3" stroke="#008000" stroke-width="1.4" />
<text x="390.6" y="164.6" text-anchor="start" font-size="9.45" font-weight="bold" >SSP3-7.0</text>
<line x1="443.8" y1="161.3" x2="463.3" y2="161.3" stroke="#ff0000" stroke-width="1.4" />
<text x="470.8" y="164.6" text-anchor="start" font-size="9.45" font-weight="bold" >SSP5-8.5</text>
<rect x="22.63" y="307.7" width="5.8" height="1.6" fill="#d4e6b7" />
<rect x="22.63" y="306.9" width="5.8" height="0.8" fill="#e5a4ab" />
<rect x="22.63" y="306.5" width="5.8" height="0.4" fill="#7db2d4" />
<rect x="22.63" y="306.5" width="5.8" height="2.8" fill="none" stroke="#000" stroke-width="1" stroke-dasharray="1,1.2"/>
<line x1="25.53" y1="308.5" x2="25.53" y2="304.51" stroke="#000" stroke-width="0.8" />
<line x1="24.23" y1="304.51" x2="26.83" y2="304.51" stroke="#000" stroke-width="0.8" />
<line x1="24.23" y1="308.5" x2="26.83" y2="308.5" stroke="#000" stroke-width="0.8" />
<rect x="28.43" y="307.7" width="5.8" height="1.6" fill="#d4e6b7" />
<rect x="28.43" y="306.5" width="5.8" height="1.2" fill="#e5a4ab" />
<rect x="28.43" y="305.79" width="5.8" height="0.72" fill="#7db2d4" />
<rect x="28.43" y="305.79" width="5.8" height="3.51" fill="none" stroke="#000" stroke-width="1" stroke-dasharray="4,1.2,1,1.2"/>
<line x1="31.33" y1="308.18" x2="31.33" y2="303.39" stroke="#000" stroke-width="0.8" />
<line x1="30.03" y1="303.39" x2="32.63" y2="303.39" stroke="#000" stroke-width="0.8" />
<line x1="30.03" y1="308.18" x2="32.63" y2="308.18" stroke="#000" stroke-width="0.8" />
<rect x="34.23" y="306.11" width="5.8" height="3.19" fill="#d4e6b7" />
<rect x="34.23" y="304.51" width="5.8" height="1.6" fill="#e5a4ab" />
<rect x="34.23" y="304.03" width="5.8" height="0.48" fill="#7db2d4" />
<rect x="34.23" y="304.03" width="5.8" height="5.27" fill="none" stroke="#000" stroke-width="1" />
<line x1="37.13" y1="305.47" x2="37.13" y2="302.59" stroke="#000" stroke-width="0.8" />
<line x1="35.83" y1="302.59" x2="38.43" y2="302.59" stroke="#000" stroke-width="0.8" />
<line x1="35.83" y1="305.47" x2="38.43" y2="305.47" stroke="#000" stroke-width="0.8" />
<rect x="50.14" y="308.1" width="5.8" height="1.2" fill="#e5a4ab" />
<rect x="50.14" y="307.3" width="5.8" height="0.8" fill="#7db2d4" />
<rect x="50.14" y="307.3" width="5.8" height="2" fill="none" stroke="#000" stroke-width="1" stroke-dasharray="1,1.2"/>
<line x1="53.04" y1="310.1" x2="53.04" y2="304.51" stroke="#000" stroke-width="0.8" />
<line x1="51.74" y1="304.51" x2="54.34" y2="304.51" stroke="#000" stroke-width="0.8" />
<line x1="51.74" y1="310.1" x2="54.34" y2="310.1" stroke="#000" stroke-width="0.8" />
<rect x="55.94" y="307.7" width="5.8" height="1.6" fill="#d4e6b7" />
<rect x="55.94" y="307.06" width="5.8" height="0.64" fill="#e5a4ab" />
<rect x="55.94" y="306.58" width="5.8" height="0.48" fill="#7db2d4" />
<rect x="55.94" y="306.58" width="5.8" height="2.72" fill="none" stroke="#000" stroke-width="1" stroke-dasharray="4,1.2,1,1.2"/>
<line x1="58.84" y1="308.66" x2="58.84" y2="304.51" stroke="#000" stroke-width="0.8" />
<line x1="57.54" y1="304.51" x2="60.14" y2="304.51" stroke="#000" stroke-width="0.8" />
<line x1="57.54" y1="308.66" x2="60.14" y2="308.66" stroke="#000" stroke-width="0.8" />
<rect x="61.74" y="306.9" width="5.8" height="2.4" fill="#d4e6b7" />
<rect x="61.74" y="305.71" width="5.8" height="1.2" fill="#e5a4ab" />
<rect x="61.74" y="304.99" width="5.8" height="0.72" fill="#7db2d4" />
<rect x="61.74" y="304.99" width="5.8" height="4.31" fill="none" stroke="#000" stroke-width="1" />
<line x1="64.64" y1="307.38" x2="64.64" y2="302.59" stroke="#000" stroke-width="0.8" />
<line x1="63.34" y1="302.59" x2="65.94" y2="302.59" stroke="#000" stroke-width="0.8" />
<line x1="63.34" y1="307.38" x2="65.94" y2="307.38" stroke="#000" stroke-width="0.8" />
<rect x="77.66" y="308.1" width="5.8" height="1.2" fill="#e5a4ab" />
<rect x="77.66" y="307.38" width="5.8" height="0.72" fill="#7db2d4" />
<rect x="77.66" y="307.38" width="5.8" height="1.92" fill="none" stroke="#000" stroke-width="1" stroke-dasharray="1,1.2"/>
<line x1="80.56" y1="308.66" x2="80.56" y2="306.11" stroke="#000" stroke-width="0.8" />
<line x1="79.26" y1="306.11" x2="81.86" y2="306.11" stroke="#000" stroke-width="0.8" />
<line x1="79.26" y1="308.66" x2="81.86" y2="308.66" stroke="#000" stroke-width="0.8" />
<rect x="83.46" y="307.7" width="5.8" height="1.6" fill="#d4e6b7" />
<rect x="83.46" y="306.9" width="5.8" height="0.8" fill="#e5a4ab" />
<rect x="83.46" y="306.42" width="5.8" height="0.48" fill="#7db2d4" />
<rect x="83.46" y="306.42" width="5.8" height="2.88" fill="none" stroke="#000" stroke-width="1" stroke-dasharray="4,1.2,1,1.2"/>
<line x1="86.36" y1="308.58" x2="86.36" y2="304.27" stroke="#000" stroke-width="0.8" />
<line x1="85.06" y1="304.27" x2="87.66" y2="304.27" stroke="#000" stroke-width="0.8" />
<line x1="85.06" y1="308.58" x2="87.66" y2="308.58" stroke="#000" stroke-width="0.8" />
<rect x="89.26" y="304.91" width="5.8" height="4.39" fill="#d4e6b7" />
<rect x="89.26" y="303.07" width="5.8" height="1.84" fill="#e5a4ab" />
<rect x="89.26" y="302.43" width="5.8" height="0.64" fill="#7db2d4" />
<rect x="89.26" y="302.43" width="5.8" height="6.87" fill="none" stroke="#000" stroke-width="1" />
<line x1="92.16" y1="305.39" x2="92.16" y2="299.48" stroke="#000" stroke-width="0.8" />
<line x1="90.86" y1="299.48" x2="93.46" y2="299.48" stroke="#000" stroke-width="0.8" />
<line x1="90.86" y1="305.39" x2="93.46" y2="305.39" stroke="#000" stroke-width="0.8" />
<rect x="105.18" y="304.91" width="5.8" height="4.39" fill="#d4e6b7" />
<rect x="105.18" y="302.11" width="5.8" height="2.8" fill="#e5a4ab" />
<rect x="105.18" y="300.2" width="5.8" height="1.92" fill="#7db2d4" />
<rect x="105.18" y="300.2" width="5.8" height="9.1" fill="none" stroke="#000" stroke-width="1" stroke-dasharray="1,1.2"/>
<line x1="108.08" y1="303.87" x2="108.08" y2="296.52" stroke="#000" stroke-width="0.8" />
<line x1="106.78" y1="296.52" x2="109.38" y2="296.52" stroke="#000" stroke-width="0.8" />
<line x1="106.78" y1="303.87" x2="109.38" y2="303.87" stroke="#000" stroke-width="0.8" />
<rect x="110.98" y="305.07" width="5.8" height="4.23" fill="#d4e6b7" />
<rect x="110.98" y="303.07" width="5.8" height="2" fill="#e5a4ab" />
<rect x="110.98" y="302.11" width="5.8" height="0.96" fill="#7db2d4" />
<rect x="110.98" y="302.11" width="5.8" height="7.19" fill="none" stroke="#000" stroke-width="1" stroke-dasharray="4,1.2,1,1.2"/>
<line x1="113.88" y1="305.95" x2="113.88" y2="298.28" stroke="#000" stroke-width="0.8" />
<line x1="112.58" y1="298.28" x2="115.18" y2="298.28" stroke="#000" stroke-width="0.8" />
<line x1="112.58" y1="305.95" x2="115.18" y2="305.95" stroke="#000" stroke-width="0.8" />
<rect x="116.78" y="299.32" width="5.8" height="9.98" fill="#d4e6b7" />
<rect x="116.78" y="294.13" width="5.8" height="5.19" fill="#e5a4ab" />
<rect x="116.78" y="292.53" width="5.8" height="1.6" fill="#7db2d4" />
<rect x="116.78" y="292.53" width="5.8" height="16.77" fill="none" stroke="#000" stroke-width="1" />
<line x1="119.68" y1="299.72" x2="119.68" y2="285.34" stroke="#000" stroke-width="0.8" />
<line x1="118.38" y1="285.34" x2="120.98" y2="285.34" stroke="#000" stroke-width="0.8" />
<line x1="118.38" y1="299.72" x2="120.98" y2="299.72" stroke="#000" stroke-width="0.8" />
<rect x="132.69" y="293.33" width="5.8" height="15.97" fill="#e5a4ab" />
<rect x="132.69" y="282.54" width="5.8" height="10.78" fill="#d4e6b7" />
<rect x="132.69" y="281.75" width="5.8" height="0.8" fill="#7db2d4" />
<rect x="132.69" y="281.75" width="5.8" height="27.55" fill="none" stroke="#000" stroke-width="1" stroke-dasharray="1,1.2"/>
<line x1="135.59" y1="291.73" x2="135.59" y2="271.76" stroke="#000" stroke-width="0.8" />
<line x1="134.29" y1="271.76" x2="136.89" y2="271.76" stroke="#000" stroke-width="0.8" />
<line x1="134.29" y1="291.73" x2="136.89" y2="291.73" stroke="#000" stroke-width="0.8" />
<rect x="138.49" y="289.33" width="5.8" height="19.97" fill="#d4e6b7" />
<rect x="138.49" y="277.35" width="5.8" height="11.98" fill="#e5a4ab" />
<rect x="138.49" y="275.76" width="5.8" height="1.6" fill="#7db2d4" />
<rect x="138.49" y="275.76" width="5.8" height="33.54" fill="none" stroke="#000" stroke-width="1" stroke-dasharray="4,1.2,1,1.2"/>
<line x1="141.39" y1="290.13" x2="141.39" y2="261.38" stroke="#000" stroke-width="0.8" />
<line x1="140.09" y1="261.38" x2="142.69" y2="261.38" stroke="#000" stroke-width="0.8" />
<line x1="140.09" y1="290.13" x2="142.69" y2="290.13" stroke="#000" stroke-width="0.8" />
<rect x="144.29" y="263.78" width="5.8" height="45.52" fill="#d4e6b7" />
<rect x="144.29" y="243.01" width="5.8" height="20.77" fill="#e5a4ab" />
<rect x="144.29" y="240.22" width="5.8" height="2.8" fill="#7db2d4" />
<rect x="144.29" y="240.22" width="5.8" height="69.08" fill="none" stroke="#000" stroke-width="1" />
<line x1="147.19" y1="261.38" x2="147.19" y2="219.05" stroke="#000" stroke-width="0.8" />
<line x1="145.89" y1="219.05" x2="148.49" y2="219.05" stroke="#000" stroke-width="0.8" />
<line x1="145.89" y1="261.38" x2="148.49" y2="261.38" stroke="#000" stroke-width="0.8" />
<rect x="16.47" y="189.5" width="139.78" height="119.8" fill="none" stroke="#000" stroke-width="1.2"/>
<line x1="14.17" y1="309.3" x2="16.47" y2="309.3" stroke="#000" stroke-width="0.9" />
<text x="12.07" y="312.6" text-anchor="end" font-size="9.45" font-weight="bold" >0.0</text>
<line x1="14.17" y1="269.37" x2="16.47" y2="269.37" stroke="#000" stroke-width="0.9" />
<text x="12.07" y="272.67" text-anchor="end" font-size="9.45" font-weight="bold" >0.5</text>
<line x1="14.17" y1="229.43" x2="16.47" y2="229.43" stroke="#000" stroke-width="0.9" />
<text x="12.07" y="232.73" text-anchor="end" font-size="9.45" font-weight="bold" >1.0</text>
<line x1="14.17" y1="189.5" x2="16.47" y2="189.5" stroke="#000" stroke-width="0.9" />
<text x="12.07" y="192.8" text-anchor="end" font-size="9.45" font-weight="bold" >1.5</text>
<line x1="31.33" y1="309.3" x2="31.33" y2="311.6" stroke="#000" stroke-width="0.9" />
<text x="31.33" y="320.7" text-anchor="middle" font-size="9.45" font-weight="bold" >CSL</text>
<line x1="58.84" y1="309.3" x2="58.84" y2="311.6" stroke="#000" stroke-width="0.9" />
<text x="58.84" y="320.7" text-anchor="middle" font-size="9.45" font-weight="bold" >CY</text>
<line x1="86.36" y1="309.3" x2="86.36" y2="311.6" stroke="#000" stroke-width="0.9" />
<text x="86.36" y="320.7" text-anchor="middle" font-size="9.45" font-weight="bold" >WCS</text>
<line x1="113.88" y1="309.3" x2="113.88" y2="311.6" stroke="#000" stroke-width="0.9" />
<text x="113.88" y="320.7" text-anchor="middle" font-size="9.45" font-weight="bold" >SDP</text>
<line x1="141.39" y1="309.3" x2="141.39" y2="311.6" stroke="#000" stroke-width="0.9" />
<text x="141.39" y="320.7" text-anchor="middle" font-size="9.45" font-weight="bold" >GHM</text>
<text x="4.97" y="177.1" text-anchor="start" font-size="9.0" font-weight="bold" letter-spacing="0.1">(e)</text>
<text x="19.47" y="186.2" font-size="9.6" font-weight="bold"><tspan font-size="9.4">×</tspan>10<tspan dx="0.6" dy="-2.6" font-size="8.3">2</tspan></text>
<rect x="195.86" y="301.31" width="5.8" height="7.99" fill="#e5a4ab" />
<rect x="195.86" y="297.72" width="5.8" height="3.59" fill="#d4e6b7" />
<rect x="195.86" y="296.52" width="5.8" height="1.2" fill="#7db2d4" />
<rect x="195.86" y="296.52" width="5.8" height="12.78" fill="none" stroke="#000" stroke-width="1" stroke-dasharray="1,1.2"/>
<line x1="198.76" y1="302.11" x2="198.76" y2="290.93" stroke="#000" stroke-width="0.8" />
<line x1="197.46" y1="290.93" x2="200.06" y2="290.93" stroke="#000" stroke-width="0.8" />
<line x1="197.46" y1="302.11" x2="200.06" y2="302.11" stroke="#000" stroke-width="0.8" />
<rect x="201.66" y="304.11" width="5.8" height="5.19" fill="#e5a4ab" />
<rect x="201.66" y="298.92" width="5.8" height="5.19" fill="#d4e6b7" />
<rect x="201.66" y="298.12" width="5.8" height="0.8" fill="#7db2d4" />
<rect x="201.66" y="298.12" width="5.8" height="11.18" fill="none" stroke="#000" stroke-width="1" stroke-dasharray="4,1.2,1,1.2"/>
<line x1="204.56" y1="304.11" x2="204.56" y2="292.13" stroke="#000" stroke-width="0.8" />
<line x1="203.26" y1="292.13" x2="205.86" y2="292.13" stroke="#000" stroke-width="0.8" />
<line x1="203.26" y1="304.11" x2="205.86" y2="304.11" stroke="#000" stroke-width="0.8" />
<rect x="207.46" y="295.72" width="5.8" height="13.58" fill="#d4e6b7" />
<rect x="207.46" y="284.54" width="5.8" height="11.18" fill="#e5a4ab" />
<rect x="207.46" y="282.94" width="5.8" height="1.6" fill="#7db2d4" />
<rect x="207.46" y="282.94" width="5.8" height="26.36" fill="none" stroke="#000" stroke-width="1" />
<line x1="210.36" y1="295.48" x2="210.36" y2="270.4" stroke="#000" stroke-width="0.8" />
<line x1="209.06" y1="270.4" x2="211.66" y2="270.4" stroke="#000" stroke-width="0.8" />
<line x1="209.06" y1="295.48" x2="211.66" y2="295.48" stroke="#000" stroke-width="0.8" />
<rect x="223.37" y="302.11" width="5.8" height="7.19" fill="#e5a4ab" />
<rect x="223.37" y="297.32" width="5.8" height="4.79" fill="#d4e6b7" />
<rect x="223.37" y="296.12" width="5.8" height="1.2" fill="#7db2d4" />
<rect x="223.37" y="296.12" width="5.8" height="13.18" fill="none" stroke="#000" stroke-width="1" stroke-dasharray="1,1.2"/>
<line x1="226.27" y1="302.67" x2="226.27" y2="289.57" stroke="#000" stroke-width="0.8" />
<line x1="224.97" y1="289.57" x2="227.57" y2="289.57" stroke="#000" stroke-width="0.8" />
<line x1="224.97" y1="302.67" x2="227.57" y2="302.67" stroke="#000" stroke-width="0.8" />
<rect x="229.17" y="301.87" width="5.8" height="7.43" fill="#e5a4ab" />
<rect x="229.17" y="294.52" width="5.8" height="7.35" fill="#d4e6b7" />
<rect x="229.17" y="293.33" width="5.8" height="1.2" fill="#7db2d4" />
<rect x="229.17" y="293.33" width="5.8" height="15.97" fill="none" stroke="#000" stroke-width="1" stroke-dasharray="4,1.2,1,1.2"/>
<line x1="232.07" y1="301.31" x2="232.07" y2="285.34" stroke="#000" stroke-width="0.8" />
<line x1="230.77" y1="285.34" x2="233.37" y2="285.34" stroke="#000" stroke-width="0.8" />
<line x1="230.77" y1="301.31" x2="233.37" y2="301.31" stroke="#000" stroke-width="0.8" />
<rect x="234.97" y="295.72" width="5.8" height="13.58" fill="#d4e6b7" />
<rect x="234.97" y="280.55" width="5.8" height="15.17" fill="#e5a4ab" />
<rect x="234.97" y="278.95" width="5.8" height="1.6" fill="#7db2d4" />
<rect x="234.97" y="278.95" width="5.8" height="30.35" fill="none" stroke="#000" stroke-width="1" />
<line x1="237.87" y1="294.68" x2="237.87" y2="263.22" stroke="#000" stroke-width="0.8" />
<line x1="236.57" y1="263.22" x2="239.17" y2="263.22" stroke="#000" stroke-width="0.8" />
<line x1="236.57" y1="294.68" x2="239.17" y2="294.68" stroke="#000" stroke-width="0.8" />
<rect x="250.88" y="306.5" width="5.8" height="2.8" fill="#e5a4ab" />
<rect x="250.88" y="303.71" width="5.8" height="2.8" fill="#d4e6b7" />
<rect x="250.88" y="302.91" width="5.8" height="0.8" fill="#7db2d4" />
<rect x="250.88" y="302.91" width="5.8" height="6.39" fill="none" stroke="#000" stroke-width="1" stroke-dasharray="1,1.2"/>
<line x1="253.78" y1="306.11" x2="253.78" y2="299.72" stroke="#000" stroke-width="0.8" />
<line x1="252.47" y1="299.72" x2="255.08" y2="299.72" stroke="#000" stroke-width="0.8" />
<line x1="252.47" y1="306.11" x2="255.08" y2="306.11" stroke="#000" stroke-width="0.8" />
<rect x="256.68" y="306.11" width="5.8" height="3.19" fill="#e5a4ab" />
<rect x="256.68" y="303.71" width="5.8" height="2.4" fill="#d4e6b7" />
<rect x="256.68" y="303.23" width="5.8" height="0.48" fill="#7db2d4" />
<rect x="256.68" y="303.23" width="5.8" height="6.07" fill="none" stroke="#000" stroke-width="1" stroke-dasharray="4,1.2,1,1.2"/>
<line x1="259.57" y1="307.3" x2="259.57" y2="299.16" stroke="#000" stroke-width="0.8" />
<line x1="258.27" y1="299.16" x2="260.88" y2="299.16" stroke="#000" stroke-width="0.8" />
<line x1="258.27" y1="307.3" x2="260.88" y2="307.3" stroke="#000" stroke-width="0.8" />
<rect x="262.48" y="303.31" width="5.8" height="5.99" fill="#d4e6b7" />
<rect x="262.48" y="298.12" width="5.8" height="5.19" fill="#e5a4ab" />
<rect x="262.48" y="296.92" width="5.8" height="1.2" fill="#7db2d4" />
<rect x="262.48" y="296.92" width="5.8" height="12.38" fill="none" stroke="#000" stroke-width="1" />
<line x1="265.38" y1="302.75" x2="265.38" y2="291.09" stroke="#000" stroke-width="0.8" />
<line x1="264.07" y1="291.09" x2="266.68" y2="291.09" stroke="#000" stroke-width="0.8" />
<line x1="264.07" y1="302.75" x2="266.68" y2="302.75" stroke="#000" stroke-width="0.8" />
<rect x="278.38" y="306.11" width="5.8" height="3.19" fill="#e5a4ab" />
<rect x="278.38" y="305.31" width="5.8" height="0.8" fill="#7db2d4" />
<rect x="278.38" y="305.31" width="5.8" height="3.99" fill="none" stroke="#000" stroke-width="1" stroke-dasharray="1,1.2"/>
<line x1="281.28" y1="306.11" x2="281.28" y2="304.51" stroke="#000" stroke-width="0.8" />
<line x1="279.98" y1="304.51" x2="282.58" y2="304.51" stroke="#000" stroke-width="0.8" />
<line x1="279.98" y1="306.11" x2="282.58" y2="306.11" stroke="#000" stroke-width="0.8" />
<rect x="284.18" y="305.71" width="5.8" height="3.59" fill="#e5a4ab" />
<rect x="284.18" y="304.51" width="5.8" height="1.2" fill="#d4e6b7" />
<rect x="284.18" y="303.71" width="5.8" height="0.8" fill="#7db2d4" />
<rect x="284.18" y="303.71" width="5.8" height="5.59" fill="none" stroke="#000" stroke-width="1" stroke-dasharray="4,1.2,1,1.2"/>
<line x1="287.08" y1="305.23" x2="287.08" y2="302.19" stroke="#000" stroke-width="0.8" />
<line x1="285.78" y1="302.19" x2="288.38" y2="302.19" stroke="#000" stroke-width="0.8" />
<line x1="285.78" y1="305.23" x2="288.38" y2="305.23" stroke="#000" stroke-width="0.8" />
<rect x="289.98" y="305.31" width="5.8" height="3.99" fill="#e5a4ab" />
<rect x="289.98" y="301.31" width="5.8" height="3.99" fill="#d4e6b7" />
<rect x="289.98" y="300.28" width="5.8" height="1.04" fill="#7db2d4" />
<rect x="289.98" y="300.28" width="5.8" height="9.02" fill="none" stroke="#000" stroke-width="1" />
<line x1="292.88" y1="303.23" x2="292.88" y2="297.32" stroke="#000" stroke-width="0.8" />
<line x1="291.58" y1="297.32" x2="294.18" y2="297.32" stroke="#000" stroke-width="0.8" />
<line x1="291.58" y1="303.23" x2="294.18" y2="303.23" stroke="#000" stroke-width="0.8" />
<rect x="305.89" y="285.34" width="5.8" height="23.96" fill="#e5a4ab" />
<rect x="305.89" y="277.75" width="5.8" height="7.59" fill="#d4e6b7" />
<rect x="305.89" y="276.55" width="5.8" height="1.2" fill="#7db2d4" />
<rect x="305.89" y="276.55" width="5.8" height="32.75" fill="none" stroke="#000" stroke-width="1" stroke-dasharray="1,1.2"/>
<line x1="308.79" y1="283.74" x2="308.79" y2="269.37" stroke="#000" stroke-width="0.8" />
<line x1="307.49" y1="269.37" x2="310.09" y2="269.37" stroke="#000" stroke-width="0.8" />
<line x1="307.49" y1="283.74" x2="310.09" y2="283.74" stroke="#000" stroke-width="0.8" />
<rect x="311.69" y="291.73" width="5.8" height="17.57" fill="#d4e6b7" />
<rect x="311.69" y="274.56" width="5.8" height="17.17" fill="#e5a4ab" />
<rect x="311.69" y="272.56" width="5.8" height="2" fill="#7db2d4" />
<rect x="311.69" y="272.56" width="5.8" height="36.74" fill="none" stroke="#000" stroke-width="1" stroke-dasharray="4,1.2,1,1.2"/>
<line x1="314.59" y1="280.95" x2="314.59" y2="264.18" stroke="#000" stroke-width="0.8" />
<line x1="313.29" y1="264.18" x2="315.89" y2="264.18" stroke="#000" stroke-width="0.8" />
<line x1="313.29" y1="280.95" x2="315.89" y2="280.95" stroke="#000" stroke-width="0.8" />
<rect x="317.49" y="268.57" width="5.8" height="40.73" fill="#d4e6b7" />
<rect x="317.49" y="237.42" width="5.8" height="31.15" fill="#e5a4ab" />
<rect x="317.49" y="235.42" width="5.8" height="2" fill="#7db2d4" />
<rect x="317.49" y="235.42" width="5.8" height="73.88" fill="none" stroke="#000" stroke-width="1" />
<line x1="320.39" y1="254.59" x2="320.39" y2="216.26" stroke="#000" stroke-width="0.8" />
<line x1="319.09" y1="216.26" x2="321.69" y2="216.26" stroke="#000" stroke-width="0.8" />
<line x1="319.09" y1="254.59" x2="321.69" y2="254.59" stroke="#000" stroke-width="0.8" />
<rect x="189.7" y="189.5" width="139.75" height="119.8" fill="none" stroke="#000" stroke-width="1.2"/>
<line x1="187.4" y1="309.3" x2="189.7" y2="309.3" stroke="#000" stroke-width="0.9" />
<text x="185.3" y="312.6" text-anchor="end" font-size="9.45" font-weight="bold" >0.0</text>
<line x1="187.4" y1="269.37" x2="189.7" y2="269.37" stroke="#000" stroke-width="0.9" />
<text x="185.3" y="272.67" text-anchor="end" font-size="9.45" font-weight="bold" >0.5</text>
<line x1="187.4" y1="229.43" x2="189.7" y2="229.43" stroke="#000" stroke-width="0.9" />
<text x="185.3" y="232.73" text-anchor="end" font-size="9.45" font-weight="bold" >1.0</text>
<line x1="187.4" y1="189.5" x2="189.7" y2="189.5" stroke="#000" stroke-width="0.9" />
<text x="185.3" y="192.8" text-anchor="end" font-size="9.45" font-weight="bold" >1.5</text>
<line x1="204.56" y1="309.3" x2="204.56" y2="311.6" stroke="#000" stroke-width="0.9" />
<text x="204.56" y="320.7" text-anchor="middle" font-size="9.45" font-weight="bold" >SDP</text>
<line x1="232.07" y1="309.3" x2="232.07" y2="311.6" stroke="#000" stroke-width="0.9" />
<text x="232.07" y="320.7" text-anchor="middle" font-size="9.45" font-weight="bold" >YRD</text>
<line x1="259.57" y1="309.3" x2="259.57" y2="311.6" stroke="#000" stroke-width="0.9" />
<text x="259.57" y="320.7" text-anchor="middle" font-size="9.45" font-weight="bold" >CP</text>
<line x1="287.08" y1="309.3" x2="287.08" y2="311.6" stroke="#000" stroke-width="0.9" />
<text x="287.08" y="320.7" text-anchor="middle" font-size="9.45" font-weight="bold" >WCS</text>
<line x1="314.59" y1="309.3" x2="314.59" y2="311.6" stroke="#000" stroke-width="0.9" />
<text x="314.59" y="320.7" text-anchor="middle" font-size="9.45" font-weight="bold" >GHM</text>
<text x="178.2" y="177.1" text-anchor="start" font-size="9.0" font-weight="bold" letter-spacing="0.1">(f)</text>
<text x="192.7" y="186.2" font-size="9.6" font-weight="bold"><tspan font-size="9.4">×</tspan>10<tspan dx="0.6" dy="-2.6" font-size="8.3">2</tspan></text>
<line x1="363.05" y1="275.37" x2="502.4" y2="275.37" stroke="#333" stroke-width="0.7" stroke-dasharray="2.2,1.7"/>
<rect x="369.16" y="268.91" width="5.8" height="6.16" fill="#7db2d4" />
<rect x="369.16" y="275.07" width="5.8" height="2.05" fill="#e5a4ab" />
<rect x="369.16" y="277.13" width="5.8" height="1.03" fill="#d4e6b7" />
<rect x="369.16" y="270.96" width="5.8" height="4.11" fill="none" stroke="#000" stroke-width="1" stroke-dasharray="1,1.2"/>
<line x1="372.06" y1="274.04" x2="372.06" y2="267.88" stroke="#000" stroke-width="0.8" />
<line x1="370.76" y1="267.88" x2="373.36" y2="267.88" stroke="#000" stroke-width="0.8" />
<line x1="370.76" y1="274.04" x2="373.36" y2="274.04" stroke="#000" stroke-width="0.8" />
<rect x="374.96" y="267.37" width="5.8" height="7.7" fill="#7db2d4" />
<rect x="374.96" y="275.07" width="5.8" height="2.74" fill="#d4e6b7" />
<rect x="374.96" y="269.94" width="5.8" height="5.13" fill="none" stroke="#000" stroke-width="1" stroke-dasharray="4,1.2,1,1.2"/>
<line x1="377.86" y1="273.7" x2="377.86" y2="266.17" stroke="#000" stroke-width="0.8" />
<line x1="376.56" y1="266.17" x2="379.16" y2="266.17" stroke="#000" stroke-width="0.8" />
<line x1="376.56" y1="273.7" x2="379.16" y2="273.7" stroke="#000" stroke-width="0.8" />
<rect x="380.76" y="266.86" width="5.8" height="8.21" fill="#7db2d4" />
<rect x="380.76" y="275.07" width="5.8" height="2.4" fill="#d4e6b7" />
<rect x="380.76" y="277.47" width="5.8" height="2.05" fill="#e5a4ab" />
<rect x="380.76" y="269.94" width="5.8" height="5.13" fill="none" stroke="#000" stroke-width="1" />
<line x1="383.66" y1="272.16" x2="383.66" y2="267.71" stroke="#000" stroke-width="0.8" />
<line x1="382.36" y1="267.71" x2="384.96" y2="267.71" stroke="#000" stroke-width="0.8" />
<line x1="382.36" y1="272.16" x2="384.96" y2="272.16" stroke="#000" stroke-width="0.8" />
<rect x="396.59" y="269.59" width="5.8" height="5.48" fill="#7db2d4" />
<rect x="396.59" y="268.57" width="5.8" height="1.03" fill="#e5a4ab" />
<rect x="396.59" y="269.94" width="5.8" height="5.13" fill="none" stroke="#000" stroke-width="1" stroke-dasharray="1,1.2"/>
<line x1="399.49" y1="274.73" x2="399.49" y2="265.15" stroke="#000" stroke-width="0.8" />
<line x1="398.19" y1="265.15" x2="400.79" y2="265.15" stroke="#000" stroke-width="0.8" />
<line x1="398.19" y1="274.73" x2="400.79" y2="274.73" stroke="#000" stroke-width="0.8" />
<rect x="402.39" y="266.51" width="5.8" height="8.56" fill="#7db2d4" />
<rect x="402.39" y="267.2" width="5.8" height="7.87" fill="none" stroke="#000" stroke-width="1" stroke-dasharray="4,1.2,1,1.2"/>
<line x1="405.29" y1="275.76" x2="405.29" y2="258.64" stroke="#000" stroke-width="0.8" />
<line x1="403.99" y1="258.64" x2="406.59" y2="258.64" stroke="#000" stroke-width="0.8" />
<line x1="403.99" y1="275.76" x2="406.59" y2="275.76" stroke="#000" stroke-width="0.8" />
<rect x="408.19" y="265.15" width="5.8" height="9.93" fill="#7db2d4" />
<rect x="408.19" y="265.83" width="5.8" height="9.24" fill="none" stroke="#000" stroke-width="1" />
<line x1="411.09" y1="271.65" x2="411.09" y2="260.01" stroke="#000" stroke-width="0.8" />
<line x1="409.79" y1="260.01" x2="412.39" y2="260.01" stroke="#000" stroke-width="0.8" />
<line x1="409.79" y1="271.65" x2="412.39" y2="271.65" stroke="#000" stroke-width="0.8" />
<rect x="424.03" y="273.02" width="5.8" height="2.05" fill="#7db2d4" />
<rect x="424.03" y="272.16" width="5.8" height="0.86" fill="#e5a4ab" />
<rect x="424.03" y="271.65" width="5.8" height="0.51" fill="#d4e6b7" />
<rect x="424.03" y="271.65" width="5.8" height="3.42" fill="none" stroke="#000" stroke-width="1" stroke-dasharray="1,1.2"/>
<line x1="426.93" y1="276.1" x2="426.93" y2="267.2" stroke="#000" stroke-width="0.8" />
<line x1="425.62" y1="267.2" x2="428.23" y2="267.2" stroke="#000" stroke-width="0.8" />
<line x1="425.62" y1="276.1" x2="428.23" y2="276.1" stroke="#000" stroke-width="0.8" />
<rect x="429.83" y="269.25" width="5.8" height="5.82" fill="#7db2d4" />
<rect x="429.83" y="275.07" width="5.8" height="2.05" fill="#e5a4ab" />
<rect x="429.83" y="270.28" width="5.8" height="4.79" fill="none" stroke="#000" stroke-width="1" stroke-dasharray="4,1.2,1,1.2"/>
<line x1="432.73" y1="275.07" x2="432.73" y2="265.49" stroke="#000" stroke-width="0.8" />
<line x1="431.43" y1="265.49" x2="434.03" y2="265.49" stroke="#000" stroke-width="0.8" />
<line x1="431.43" y1="275.07" x2="434.03" y2="275.07" stroke="#000" stroke-width="0.8" />
<rect x="435.63" y="265.15" width="5.8" height="9.93" fill="#7db2d4" />
<rect x="435.63" y="265.49" width="5.8" height="9.58" fill="none" stroke="#000" stroke-width="1" />
<line x1="438.53" y1="272.68" x2="438.53" y2="258.3" stroke="#000" stroke-width="0.8" />
<line x1="437.23" y1="258.3" x2="439.83" y2="258.3" stroke="#000" stroke-width="0.8" />
<line x1="437.23" y1="272.68" x2="439.83" y2="272.68" stroke="#000" stroke-width="0.8" />
<rect x="451.46" y="265.83" width="5.8" height="9.24" fill="#7db2d4" />
<rect x="451.46" y="275.07" width="5.8" height="2.05" fill="#e5a4ab" />
<rect x="451.46" y="268.23" width="5.8" height="6.85" fill="none" stroke="#000" stroke-width="1" stroke-dasharray="1,1.2"/>
<line x1="454.36" y1="274.39" x2="454.36" y2="262.06" stroke="#000" stroke-width="0.8" />
<line x1="453.06" y1="262.06" x2="455.66" y2="262.06" stroke="#000" stroke-width="0.8" />
<line x1="453.06" y1="274.39" x2="455.66" y2="274.39" stroke="#000" stroke-width="0.8" />
<rect x="457.26" y="262.75" width="5.8" height="12.32" fill="#7db2d4" />
<rect x="457.26" y="262.06" width="5.8" height="0.68" fill="#e5a4ab" />
<rect x="457.26" y="263.43" width="5.8" height="11.64" fill="none" stroke="#000" stroke-width="1" stroke-dasharray="4,1.2,1,1.2"/>
<line x1="460.16" y1="273.7" x2="460.16" y2="253.17" stroke="#000" stroke-width="0.8" />
<line x1="458.86" y1="253.17" x2="461.46" y2="253.17" stroke="#000" stroke-width="0.8" />
<line x1="458.86" y1="273.7" x2="461.46" y2="273.7" stroke="#000" stroke-width="0.8" />
<rect x="463.06" y="259.67" width="5.8" height="15.4" fill="#7db2d4" />
<rect x="463.06" y="275.07" width="5.8" height="3.08" fill="#d4e6b7" />
<rect x="463.06" y="278.15" width="5.8" height="2.05" fill="#e5a4ab" />
<rect x="463.06" y="264.12" width="5.8" height="10.95" fill="none" stroke="#000" stroke-width="1" />
<line x1="465.96" y1="270.96" x2="465.96" y2="257.27" stroke="#000" stroke-width="0.8" />
<line x1="464.66" y1="257.27" x2="467.26" y2="257.27" stroke="#000" stroke-width="0.8" />
<line x1="464.66" y1="270.96" x2="467.26" y2="270.96" stroke="#000" stroke-width="0.8" />
<rect x="478.89" y="257.61" width="5.8" height="17.46" fill="#7db2d4" />
<rect x="478.89" y="275.07" width="5.8" height="6.5" fill="#e5a4ab" />
<rect x="478.89" y="281.57" width="5.8" height="5.48" fill="#d4e6b7" />
<rect x="478.89" y="269.77" width="5.8" height="5.31" fill="none" stroke="#000" stroke-width="1" stroke-dasharray="1,1.2"/>
<line x1="481.79" y1="282.26" x2="481.79" y2="257.27" stroke="#000" stroke-width="0.8" />
<line x1="480.49" y1="257.27" x2="483.09" y2="257.27" stroke="#000" stroke-width="0.8" />
<line x1="480.49" y1="282.26" x2="483.09" y2="282.26" stroke="#000" stroke-width="0.8" />
<rect x="484.69" y="224.07" width="5.8" height="51" fill="#7db2d4" />
<rect x="484.69" y="275.07" width="5.8" height="7.53" fill="#d4e6b7" />
<rect x="484.69" y="282.6" width="5.8" height="4.45" fill="#e5a4ab" />
<rect x="484.69" y="236.39" width="5.8" height="38.68" fill="none" stroke="#000" stroke-width="1" stroke-dasharray="4,1.2,1,1.2"/>
<line x1="487.59" y1="263.78" x2="487.59" y2="209.01" stroke="#000" stroke-width="0.8" />
<line x1="486.29" y1="209.01" x2="488.89" y2="209.01" stroke="#000" stroke-width="0.8" />
<line x1="486.29" y1="263.78" x2="488.89" y2="263.78" stroke="#000" stroke-width="0.8" />
<rect x="490.49" y="211.41" width="5.8" height="63.67" fill="#7db2d4" />
<rect x="490.49" y="275.07" width="5.8" height="15.4" fill="#d4e6b7" />
<rect x="490.49" y="290.47" width="5.8" height="6.5" fill="#e5a4ab" />
<rect x="490.49" y="233.31" width="5.8" height="41.76" fill="none" stroke="#000" stroke-width="1" />
<line x1="493.39" y1="253.85" x2="493.39" y2="212.78" stroke="#000" stroke-width="0.8" />
<line x1="492.09" y1="212.78" x2="494.69" y2="212.78" stroke="#000" stroke-width="0.8" />
<line x1="492.09" y1="253.85" x2="494.69" y2="253.85" stroke="#000" stroke-width="0.8" />
<rect x="363.05" y="189.5" width="139.35" height="119.8" fill="none" stroke="#000" stroke-width="1.2"/>
<line x1="360.75" y1="309.3" x2="363.05" y2="309.3" stroke="#000" stroke-width="0.9" />
<text x="358.65" y="312.6" text-anchor="end" font-size="9.45" font-weight="bold" >-10</text>
<line x1="360.75" y1="292.19" x2="363.05" y2="292.19" stroke="#000" stroke-width="0.9" />
<text x="358.65" y="295.49" text-anchor="end" font-size="9.45" font-weight="bold" >-5</text>
<line x1="360.75" y1="275.07" x2="363.05" y2="275.07" stroke="#000" stroke-width="0.9" />
<text x="358.65" y="278.37" text-anchor="end" font-size="9.45" font-weight="bold" >0</text>
<line x1="360.75" y1="257.96" x2="363.05" y2="257.96" stroke="#000" stroke-width="0.9" />
<text x="358.65" y="261.26" text-anchor="end" font-size="9.45" font-weight="bold" >5</text>
<line x1="360.75" y1="240.84" x2="363.05" y2="240.84" stroke="#000" stroke-width="0.9" />
<text x="358.65" y="244.14" text-anchor="end" font-size="9.45" font-weight="bold" >10</text>
<line x1="360.75" y1="223.73" x2="363.05" y2="223.73" stroke="#000" stroke-width="0.9" />
<text x="358.65" y="227.03" text-anchor="end" font-size="9.45" font-weight="bold" >15</text>
<line x1="360.75" y1="206.61" x2="363.05" y2="206.61" stroke="#000" stroke-width="0.9" />
<text x="358.65" y="209.91" text-anchor="end" font-size="9.45" font-weight="bold" >20</text>
<line x1="360.75" y1="189.5" x2="363.05" y2="189.5" stroke="#000" stroke-width="0.9" />
<text x="358.65" y="192.8" text-anchor="end" font-size="9.45" font-weight="bold" >25</text>
<line x1="377.86" y1="309.3" x2="377.86" y2="311.6" stroke="#000" stroke-width="0.9" />
<text x="377.86" y="320.7" text-anchor="middle" font-size="9.45" font-weight="bold" >CSL</text>
<line x1="405.29" y1="309.3" x2="405.29" y2="311.6" stroke="#000" stroke-width="0.9" />
<text x="405.29" y="320.7" text-anchor="middle" font-size="9.45" font-weight="bold" >CY</text>
<line x1="432.73" y1="309.3" x2="432.73" y2="311.6" stroke="#000" stroke-width="0.9" />
<text x="432.73" y="320.7" text-anchor="middle" font-size="9.45" font-weight="bold" >WCS</text>
<line x1="460.16" y1="309.3" x2="460.16" y2="311.6" stroke="#000" stroke-width="0.9" />
<text x="460.16" y="320.7" text-anchor="middle" font-size="9.45" font-weight="bold" >SDP</text>
<line x1="487.59" y1="309.3" x2="487.59" y2="311.6" stroke="#000" stroke-width="0.9" />
<text x="487.59" y="320.7" text-anchor="middle" font-size="9.45" font-weight="bold" >GHM</text>
<text x="351.55" y="177.1" text-anchor="start" font-size="9.0" font-weight="bold" letter-spacing="0.1">(g)</text>
<text x="366.05" y="186.2" font-size="9.6" font-weight="bold"><tspan font-size="9.4">×</tspan>10<tspan dx="0.6" dy="-2.6" font-size="8.3">3</tspan></text>
<line x1="536.45" y1="275.37" x2="675.7" y2="275.37" stroke="#333" stroke-width="0.7" stroke-dasharray="2.2,1.7"/>
<rect x="542.55" y="268.74" width="5.8" height="6.33" fill="#7db2d4" />
<rect x="542.55" y="275.07" width="5.8" height="1.37" fill="#e5a4ab" />
<rect x="542.55" y="276.44" width="5.8" height="1.37" fill="#d4e6b7" />
<rect x="542.55" y="270.96" width="5.8" height="4.11" fill="none" stroke="#000" stroke-width="1" stroke-dasharray="1,1.2"/>
<line x1="545.45" y1="278.32" x2="545.45" y2="263.6" stroke="#000" stroke-width="0.8" />
<line x1="544.15" y1="263.6" x2="546.75" y2="263.6" stroke="#000" stroke-width="0.8" />
<line x1="544.15" y1="278.32" x2="546.75" y2="278.32" stroke="#000" stroke-width="0.8" />
<rect x="548.35" y="261.38" width="5.8" height="13.69" fill="#7db2d4" />
<rect x="548.35" y="260.35" width="5.8" height="1.03" fill="#e5a4ab" />
<rect x="548.35" y="259.33" width="5.8" height="1.03" fill="#d4e6b7" />
<rect x="548.35" y="259.67" width="5.8" height="15.4" fill="none" stroke="#000" stroke-width="1" stroke-dasharray="4,1.2,1,1.2"/>
<line x1="551.25" y1="271.99" x2="551.25" y2="247.35" stroke="#000" stroke-width="0.8" />
<line x1="549.95" y1="247.35" x2="552.55" y2="247.35" stroke="#000" stroke-width="0.8" />
<line x1="549.95" y1="271.99" x2="552.55" y2="271.99" stroke="#000" stroke-width="0.8" />
<rect x="554.15" y="256.93" width="5.8" height="18.14" fill="#7db2d4" />
<rect x="554.15" y="275.07" width="5.8" height="3.42" fill="#d4e6b7" />
<rect x="554.15" y="278.49" width="5.8" height="3.08" fill="#e5a4ab" />
<rect x="554.15" y="263.09" width="5.8" height="11.98" fill="none" stroke="#000" stroke-width="1" />
<line x1="557.05" y1="274.39" x2="557.05" y2="251.8" stroke="#000" stroke-width="0.8" />
<line x1="555.75" y1="251.8" x2="558.35" y2="251.8" stroke="#000" stroke-width="0.8" />
<line x1="555.75" y1="274.39" x2="558.35" y2="274.39" stroke="#000" stroke-width="0.8" />
<rect x="569.96" y="270.28" width="5.8" height="4.79" fill="#7db2d4" />
<rect x="569.96" y="275.07" width="5.8" height="4.11" fill="#e5a4ab" />
<rect x="569.96" y="279.18" width="5.8" height="2.4" fill="#d4e6b7" />
<rect x="569.96" y="275.07" width="5.8" height="4.11" fill="none" stroke="#000" stroke-width="1" stroke-dasharray="1,1.2"/>
<line x1="572.86" y1="282.6" x2="572.86" y2="275.76" stroke="#000" stroke-width="0.8" />
<line x1="571.56" y1="275.76" x2="574.16" y2="275.76" stroke="#000" stroke-width="0.8" />
<line x1="571.56" y1="282.6" x2="574.16" y2="282.6" stroke="#000" stroke-width="0.8" />
<rect x="575.76" y="263.43" width="5.8" height="11.64" fill="#7db2d4" />
<rect x="575.76" y="264.12" width="5.8" height="10.95" fill="none" stroke="#000" stroke-width="1" stroke-dasharray="4,1.2,1,1.2"/>
<line x1="578.66" y1="275.41" x2="578.66" y2="252.82" stroke="#000" stroke-width="0.8" />
<line x1="577.36" y1="252.82" x2="579.96" y2="252.82" stroke="#000" stroke-width="0.8" />
<line x1="577.36" y1="275.41" x2="579.96" y2="275.41" stroke="#000" stroke-width="0.8" />
<rect x="581.56" y="259.67" width="5.8" height="15.4" fill="#7db2d4" />
<rect x="581.56" y="275.07" width="5.8" height="5.82" fill="#d4e6b7" />
<rect x="581.56" y="280.89" width="5.8" height="7.19" fill="#e5a4ab" />
<rect x="581.56" y="273.36" width="5.8" height="1.71" fill="none" stroke="#000" stroke-width="1" />
<line x1="584.46" y1="281.92" x2="584.46" y2="264.8" stroke="#000" stroke-width="0.8" />
<line x1="583.16" y1="264.8" x2="585.76" y2="264.8" stroke="#000" stroke-width="0.8" />
<line x1="583.16" y1="281.92" x2="585.76" y2="281.92" stroke="#000" stroke-width="0.8" />
<rect x="597.38" y="268.57" width="5.8" height="6.5" fill="#7db2d4" />
<rect x="597.38" y="267.2" width="5.8" height="1.37" fill="#d4e6b7" />
<rect x="597.38" y="265.83" width="5.8" height="1.37" fill="#e5a4ab" />
<rect x="597.38" y="265.83" width="5.8" height="9.24" fill="none" stroke="#000" stroke-width="1" stroke-dasharray="1,1.2"/>
<line x1="600.27" y1="274.73" x2="600.27" y2="256.93" stroke="#000" stroke-width="0.8" />
<line x1="598.98" y1="256.93" x2="601.57" y2="256.93" stroke="#000" stroke-width="0.8" />
<line x1="598.98" y1="274.73" x2="601.57" y2="274.73" stroke="#000" stroke-width="0.8" />
<rect x="603.17" y="260.01" width="5.8" height="15.06" fill="#7db2d4" />
<rect x="603.17" y="258.98" width="5.8" height="1.03" fill="#e5a4ab" />
<rect x="603.17" y="259.33" width="5.8" height="15.75" fill="none" stroke="#000" stroke-width="1" stroke-dasharray="4,1.2,1,1.2"/>
<line x1="606.07" y1="271.65" x2="606.07" y2="247" stroke="#000" stroke-width="0.8" />
<line x1="604.77" y1="247" x2="607.37" y2="247" stroke="#000" stroke-width="0.8" />
<line x1="604.77" y1="271.65" x2="607.37" y2="271.65" stroke="#000" stroke-width="0.8" />
<rect x="608.98" y="258.3" width="5.8" height="16.77" fill="#7db2d4" />
<rect x="608.98" y="258.47" width="5.8" height="16.6" fill="none" stroke="#000" stroke-width="1" />
<line x1="611.88" y1="268.74" x2="611.88" y2="248.2" stroke="#000" stroke-width="0.8" />
<line x1="610.58" y1="248.2" x2="613.17" y2="248.2" stroke="#000" stroke-width="0.8" />
<line x1="610.58" y1="268.74" x2="613.17" y2="268.74" stroke="#000" stroke-width="0.8" />
<rect x="624.79" y="271.65" width="5.8" height="3.42" fill="#7db2d4" />
<rect x="624.79" y="270.96" width="5.8" height="0.68" fill="#e5a4ab" />
<rect x="624.79" y="271.31" width="5.8" height="3.77" fill="none" stroke="#000" stroke-width="1" stroke-dasharray="1,1.2"/>
<line x1="627.69" y1="275.41" x2="627.69" y2="267.2" stroke="#000" stroke-width="0.8" />
<line x1="626.39" y1="267.2" x2="628.99" y2="267.2" stroke="#000" stroke-width="0.8" />
<line x1="626.39" y1="275.41" x2="628.99" y2="275.41" stroke="#000" stroke-width="0.8" />
<rect x="630.59" y="270.62" width="5.8" height="4.45" fill="#7db2d4" />
<rect x="630.59" y="275.07" width="5.8" height="2.05" fill="#d4e6b7" />
<rect x="630.59" y="270.62" width="5.8" height="4.45" fill="none" stroke="#000" stroke-width="1" stroke-dasharray="4,1.2,1,1.2"/>
<line x1="633.49" y1="273.36" x2="633.49" y2="267.88" stroke="#000" stroke-width="0.8" />
<line x1="632.19" y1="267.88" x2="634.79" y2="267.88" stroke="#000" stroke-width="0.8" />
<line x1="632.19" y1="273.36" x2="634.79" y2="273.36" stroke="#000" stroke-width="0.8" />
<rect x="636.39" y="266.17" width="5.8" height="8.9" fill="#7db2d4" />
<rect x="636.39" y="266.51" width="5.8" height="8.56" fill="none" stroke="#000" stroke-width="1" />
<line x1="639.29" y1="271.65" x2="639.29" y2="261.38" stroke="#000" stroke-width="0.8" />
<line x1="637.99" y1="261.38" x2="640.59" y2="261.38" stroke="#000" stroke-width="0.8" />
<line x1="637.99" y1="271.65" x2="640.59" y2="271.65" stroke="#000" stroke-width="0.8" />
<rect x="652.2" y="262.41" width="5.8" height="12.66" fill="#7db2d4" />
<rect x="652.2" y="275.07" width="5.8" height="10.27" fill="#e5a4ab" />
<rect x="652.2" y="285.34" width="5.8" height="3.42" fill="#d4e6b7" />
<rect x="652.2" y="275.07" width="5.8" height="1.54" fill="none" stroke="#000" stroke-width="1" stroke-dasharray="1,1.2"/>
<line x1="655.1" y1="285.34" x2="655.1" y2="267.88" stroke="#000" stroke-width="0.8" />
<line x1="653.8" y1="267.88" x2="656.4" y2="267.88" stroke="#000" stroke-width="0.8" />
<line x1="653.8" y1="285.34" x2="656.4" y2="285.34" stroke="#000" stroke-width="0.8" />
<rect x="658" y="230.92" width="5.8" height="44.15" fill="#7db2d4" />
<rect x="658" y="275.07" width="5.8" height="6.16" fill="#d4e6b7" />
<rect x="658" y="281.23" width="5.8" height="7.19" fill="#e5a4ab" />
<rect x="658" y="244.27" width="5.8" height="30.81" fill="none" stroke="#000" stroke-width="1" stroke-dasharray="4,1.2,1,1.2"/>
<line x1="660.9" y1="261.04" x2="660.9" y2="227.49" stroke="#000" stroke-width="0.8" />
<line x1="659.6" y1="227.49" x2="662.2" y2="227.49" stroke="#000" stroke-width="0.8" />
<line x1="659.6" y1="261.04" x2="662.2" y2="261.04" stroke="#000" stroke-width="0.8" />
<rect x="663.8" y="218.59" width="5.8" height="56.48" fill="#7db2d4" />
<rect x="663.8" y="275.07" width="5.8" height="12.66" fill="#d4e6b7" />
<rect x="663.8" y="287.74" width="5.8" height="9.93" fill="#e5a4ab" />
<rect x="663.8" y="241.87" width="5.8" height="33.2" fill="none" stroke="#000" stroke-width="1" />
<line x1="666.7" y1="260.7" x2="666.7" y2="223.04" stroke="#000" stroke-width="0.8" />
<line x1="665.4" y1="223.04" x2="668" y2="223.04" stroke="#000" stroke-width="0.8" />
<line x1="665.4" y1="260.7" x2="668" y2="260.7" stroke="#000" stroke-width="0.8" />
<rect x="536.45" y="189.5" width="139.25" height="119.8" fill="none" stroke="#000" stroke-width="1.2"/>
<line x1="534.15" y1="309.3" x2="536.45" y2="309.3" stroke="#000" stroke-width="0.9" />
<text x="532.05" y="312.6" text-anchor="end" font-size="9.45" font-weight="bold" >-10</text>
<line x1="534.15" y1="292.19" x2="536.45" y2="292.19" stroke="#000" stroke-width="0.9" />
<text x="532.05" y="295.49" text-anchor="end" font-size="9.45" font-weight="bold" >-5</text>
<line x1="534.15" y1="275.07" x2="536.45" y2="275.07" stroke="#000" stroke-width="0.9" />
<text x="532.05" y="278.37" text-anchor="end" font-size="9.45" font-weight="bold" >0</text>
<line x1="534.15" y1="257.96" x2="536.45" y2="257.96" stroke="#000" stroke-width="0.9" />
<text x="532.05" y="261.26" text-anchor="end" font-size="9.45" font-weight="bold" >5</text>
<line x1="534.15" y1="240.84" x2="536.45" y2="240.84" stroke="#000" stroke-width="0.9" />
<text x="532.05" y="244.14" text-anchor="end" font-size="9.45" font-weight="bold" >10</text>
<line x1="534.15" y1="223.73" x2="536.45" y2="223.73" stroke="#000" stroke-width="0.9" />
<text x="532.05" y="227.03" text-anchor="end" font-size="9.45" font-weight="bold" >15</text>
<line x1="534.15" y1="206.61" x2="536.45" y2="206.61" stroke="#000" stroke-width="0.9" />
<text x="532.05" y="209.91" text-anchor="end" font-size="9.45" font-weight="bold" >20</text>
<line x1="534.15" y1="189.5" x2="536.45" y2="189.5" stroke="#000" stroke-width="0.9" />
<text x="532.05" y="192.8" text-anchor="end" font-size="9.45" font-weight="bold" >25</text>
<line x1="551.25" y1="309.3" x2="551.25" y2="311.6" stroke="#000" stroke-width="0.9" />
<text x="551.25" y="320.7" text-anchor="middle" font-size="9.45" font-weight="bold" >SDP</text>
<line x1="578.66" y1="309.3" x2="578.66" y2="311.6" stroke="#000" stroke-width="0.9" />
<text x="578.66" y="320.7" text-anchor="middle" font-size="9.45" font-weight="bold" >YRD</text>
<line x1="606.08" y1="309.3" x2="606.08" y2="311.6" stroke="#000" stroke-width="0.9" />
<text x="606.08" y="320.7" text-anchor="middle" font-size="9.45" font-weight="bold" >CP</text>
<line x1="633.49" y1="309.3" x2="633.49" y2="311.6" stroke="#000" stroke-width="0.9" />
<text x="633.49" y="320.7" text-anchor="middle" font-size="9.45" font-weight="bold" >WCS</text>
<line x1="660.9" y1="309.3" x2="660.9" y2="311.6" stroke="#000" stroke-width="0.9" />
<text x="660.9" y="320.7" text-anchor="middle" font-size="9.45" font-weight="bold" >GHM</text>
<text x="524.95" y="177.1" text-anchor="start" font-size="9.0" font-weight="bold" letter-spacing="0.1">(h)</text>
<text x="539.45" y="186.2" font-size="9.6" font-weight="bold"><tspan font-size="9.4">×</tspan>10<tspan dx="0.6" dy="-2.6" font-size="8.3">3</tspan></text>
<rect x="51" y="328.2" width="19.6" height="7.2" fill="#e5a4ab" />
<text x="77.8" y="335.3" text-anchor="start" font-size="9.45" font-weight="bold" >GE or PE</text>
<rect x="134.6" y="328.2" width="19.6" height="7.2" fill="#7db2d4" />
<text x="161.1" y="335.3" text-anchor="start" font-size="9.45" font-weight="bold" >CE</text>
<rect x="192.2" y="328.2" width="19.6" height="7.2" fill="#d4e6b7" />
<text x="219.2" y="335.3" text-anchor="start" font-size="9.45" font-weight="bold" >IE</text>
<line x1="247" y1="331.7" x2="266" y2="331.7" stroke="#000" stroke-width="1.2" stroke-dasharray="1.3,2"/>
<text x="273.8" y="335.3" text-anchor="start" font-size="9.45" font-weight="bold" >Total Change (SSP1-2.6)</text>
<line x1="389.6" y1="331.7" x2="409" y2="331.7" stroke="#000" stroke-width="1.2" stroke-dasharray="7.9,2.1,1.2,2.2"/>
<text x="416.5" y="335.3" text-anchor="start" font-size="9.45" font-weight="bold" >Total Change (SSP3-7.0)</text>
<line x1="531" y1="331.7" x2="550.8" y2="331.7" stroke="#000" stroke-width="1.2" />
<text x="558.9" y="335.3" text-anchor="start" font-size="9.45" font-weight="bold" >Total Change (SSP5-8.5)</text>
</g>
</svg>
</body></html>
